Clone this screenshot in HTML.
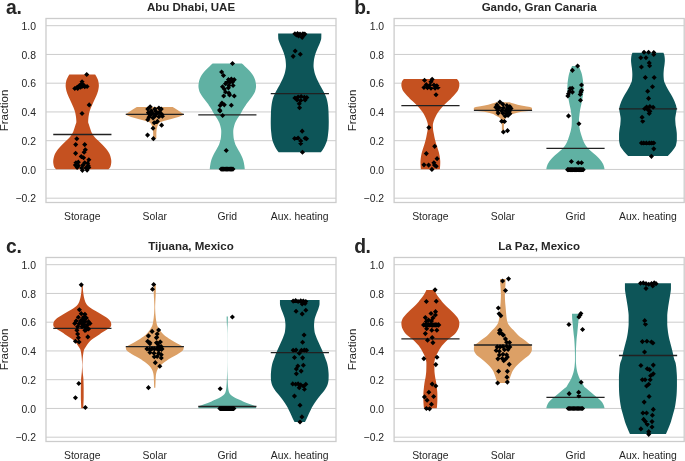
<!DOCTYPE html>
<html lang="en"><head><meta charset="utf-8"><title>Violin plots</title>
<style>html,body{margin:0;padding:0;background:#fff;}body{width:685px;height:461px;overflow:hidden;}svg{display:block;will-change:transform;font-family:"Liberation Sans",Arial,Helvetica,sans-serif;}.tk{font-size:10.4px;fill:#262626;}.lb{font-size:11.5px;fill:#262626;}.tt{font-size:11.5px;font-weight:bold;fill:#262626;}.pl{font-size:19.3px;font-weight:bold;fill:#262626;letter-spacing:-0.4px;}</style></head><body>
<svg width="685" height="461" viewBox="0 0 685 461">
<rect width="685" height="461" fill="#fff"/>
<g>
<path d="M46,25.69H336M46,54.44H336M46,83.19H336M46,111.94H336M46,140.69H336M46,169.44H336M46,198.19H336" stroke="#cccccc" stroke-width="1" fill="none"/>
<path d="M95.15,74.4L95.63,75.16L96.08,75.92L96.49,76.68L96.87,77.44L97.23,78.2L97.58,78.96L97.9,79.71L98.15,80.47L98.32,81.23L98.46,81.99L98.59,82.75L98.7,83.51L98.79,84.27L98.84,85.03L98.85,85.79L98.81,86.55L98.74,87.31L98.63,88.07L98.51,88.82L98.37,89.58L98.22,90.34L98.04,91.1L97.81,91.86L97.54,92.62L97.25,93.38L96.95,94.14L96.65,94.9L96.34,95.66L96.01,96.42L95.67,97.18L95.32,97.94L94.96,98.69L94.62,99.45L94.28,100.21L93.93,100.97L93.59,101.73L93.25,102.49L92.91,103.25L92.58,104.01L92.24,104.77L91.9,105.53L91.56,106.29L91.23,107.05L90.91,107.8L90.61,108.56L90.34,109.32L90.07,110.08L89.82,110.84L89.58,111.6L89.37,112.36L89.18,113.12L89.01,113.88L88.87,114.64L88.74,115.4L88.61,116.16L88.51,116.92L88.42,117.67L88.35,118.43L88.29,119.19L88.23,119.95L88.19,120.71L88.16,121.47L88.16,122.23L88.32,122.99L88.6,123.75L88.89,124.51L89.12,125.27L89.36,126.03L89.6,126.78L89.84,127.54L90.09,128.3L90.34,129.06L90.59,129.82L90.83,130.58L91.09,131.34L91.39,132.1L91.77,132.86L92.2,133.62L92.69,134.38L93.21,135.14L93.77,135.9L94.36,136.65L94.98,137.41L95.67,138.17L96.43,138.93L97.24,139.69L98.06,140.45L98.86,141.21L99.62,141.97L100.39,142.73L101.16,143.49L101.92,144.25L102.67,145.01L103.38,145.76L104.07,146.52L104.75,147.28L105.43,148.04L106.08,148.8L106.7,149.56L107.27,150.32L107.79,151.08L108.27,151.84L108.74,152.6L109.18,153.36L109.59,154.12L109.96,154.88L110.25,155.63L110.47,156.39L110.66,157.15L110.83,157.91L110.99,158.67L111.13,159.43L111.23,160.19L111.29,160.95L111.3,161.71L111.27,162.47L111.19,163.23L111.08,163.99L110.94,164.74L110.77,165.5L110.57,166.26L110.33,167.02L109.85,167.78L109.19,168.54L108.45,169.3L56.05,169.3L55.31,168.54L54.65,167.78L54.17,167.02L53.93,166.26L53.73,165.5L53.56,164.74L53.42,163.99L53.31,163.23L53.23,162.47L53.2,161.71L53.21,160.95L53.27,160.19L53.37,159.43L53.51,158.67L53.67,157.91L53.84,157.15L54.03,156.39L54.25,155.63L54.54,154.88L54.91,154.12L55.32,153.36L55.76,152.6L56.23,151.84L56.71,151.08L57.23,150.32L57.8,149.56L58.42,148.8L59.07,148.04L59.75,147.28L60.43,146.52L61.12,145.76L61.83,145.01L62.58,144.25L63.34,143.49L64.11,142.73L64.88,141.97L65.64,141.21L66.44,140.45L67.26,139.69L68.07,138.93L68.83,138.17L69.52,137.41L70.14,136.65L70.73,135.9L71.29,135.14L71.81,134.38L72.3,133.62L72.73,132.86L73.11,132.1L73.41,131.34L73.67,130.58L73.91,129.82L74.16,129.06L74.41,128.3L74.66,127.54L74.9,126.78L75.14,126.03L75.38,125.27L75.61,124.51L75.9,123.75L76.18,122.99L76.34,122.23L76.34,121.47L76.31,120.71L76.27,119.95L76.21,119.19L76.15,118.43L76.08,117.67L75.99,116.92L75.89,116.16L75.76,115.4L75.63,114.64L75.49,113.88L75.32,113.12L75.13,112.36L74.92,111.6L74.68,110.84L74.43,110.08L74.16,109.32L73.89,108.56L73.59,107.8L73.27,107.05L72.94,106.29L72.6,105.53L72.26,104.77L71.92,104.01L71.59,103.25L71.25,102.49L70.91,101.73L70.57,100.97L70.22,100.21L69.88,99.45L69.54,98.69L69.18,97.94L68.83,97.18L68.49,96.42L68.16,95.66L67.85,94.9L67.55,94.14L67.25,93.38L66.96,92.62L66.69,91.86L66.46,91.1L66.28,90.34L66.13,89.58L65.99,88.82L65.87,88.07L65.76,87.31L65.69,86.55L65.65,85.79L65.66,85.03L65.71,84.27L65.8,83.51L65.91,82.75L66.04,81.99L66.18,81.23L66.35,80.47L66.6,79.71L66.92,78.96L67.27,78.2L67.63,77.44L68.01,76.68L68.42,75.92L68.87,75.16L69.35,74.4Z" fill="#C55120"/>
<path d="M172.65,106.9L173.94,107.67L175.18,108.44L176.37,109.2L177.51,109.97L178.62,110.74L179.71,111.51L180.78,112.28L181.88,113.05L183.24,113.81L183.62,114.58L182.53,115.35L180.89,116.12L178.33,116.89L175.56,117.66L172.98,118.42L170.33,119.19L167.43,119.96L164.58,120.73L162.11,121.5L160.16,122.27L159.2,123.03L158.58,123.8L158.13,124.57L157.79,125.34L157.51,126.11L157.27,126.88L157.05,127.64L156.85,128.41L156.69,129.18L156.57,129.95L156.51,130.72L156.45,131.49L156.4,132.25L156.37,133.02L156.35,133.79L156.35,134.56L156.35,135.33L156.35,136.1L156.35,136.86L156.35,137.63L156.35,138.4L153.15,138.4L153.15,137.63L153.15,136.86L153.15,136.1L153.15,135.33L153.15,134.56L153.15,133.79L153.13,133.02L153.1,132.25L153.05,131.49L152.99,130.72L152.93,129.95L152.81,129.18L152.65,128.41L152.45,127.64L152.23,126.88L151.99,126.11L151.71,125.34L151.37,124.57L150.92,123.8L150.3,123.03L149.34,122.27L147.39,121.5L144.92,120.73L142.07,119.96L139.17,119.19L136.52,118.42L133.94,117.66L131.17,116.89L128.61,116.12L126.97,115.35L125.88,114.58L126.26,113.81L127.62,113.05L128.72,112.28L129.79,111.51L130.88,110.74L131.99,109.97L133.13,109.2L134.32,108.44L135.56,107.67L136.85,106.9Z" fill="#DCA066"/>
<path d="M241.85,63.6L242.76,64.36L243.65,65.12L244.51,65.88L245.34,66.64L246.15,67.4L246.94,68.16L247.72,68.92L248.48,69.68L249.21,70.44L249.9,71.2L250.54,71.96L251.13,72.72L251.71,73.48L252.27,74.24L252.78,75L253.25,75.76L253.66,76.52L254.02,77.27L254.35,78.03L254.67,78.79L254.95,79.55L255.19,80.31L255.38,81.07L255.53,81.83L255.67,82.59L255.8,83.35L255.91,84.11L255.99,84.87L256.04,85.63L256.05,86.39L255.99,87.15L255.89,87.91L255.76,88.67L255.59,89.43L255.4,90.19L255.21,90.95L254.95,91.71L254.61,92.47L254.21,93.23L253.77,93.99L253.31,94.75L252.85,95.51L252.36,96.27L251.84,97.03L251.28,97.79L250.71,98.55L250.12,99.31L249.55,100.07L248.98,100.83L248.39,101.59L247.8,102.35L247.21,103.11L246.63,103.86L246.07,104.62L245.54,105.38L245.01,106.14L244.49,106.9L243.98,107.66L243.5,108.42L243.03,109.18L242.61,109.94L242.21,110.7L241.83,111.46L241.43,112.22L241.01,112.98L240.57,113.74L240.13,114.5L239.66,115.26L239.16,116.02L238.64,116.78L238.12,117.54L237.62,118.3L237.15,119.06L236.73,119.82L236.33,120.58L235.94,121.34L235.56,122.1L235.2,122.86L234.88,123.62L234.59,124.38L234.35,125.14L234.15,125.9L233.96,126.66L233.78,127.42L233.62,128.18L233.47,128.94L233.36,129.69L233.28,130.45L233.25,131.21L233.26,131.97L233.27,132.73L233.3,133.49L233.34,134.25L233.39,135.01L233.44,135.77L233.5,136.53L233.57,137.29L233.66,138.05L233.79,138.81L233.94,139.57L234.12,140.33L234.32,141.09L234.54,141.85L234.76,142.61L235.01,143.37L235.3,144.13L235.64,144.89L236.02,145.65L236.42,146.41L236.83,147.17L237.24,147.93L237.64,148.69L238.05,149.45L238.48,150.21L238.91,150.97L239.36,151.73L239.79,152.49L240.21,153.25L240.61,154.01L240.97,154.77L241.33,155.53L241.68,156.28L242.02,157.04L242.34,157.8L242.64,158.56L242.92,159.32L243.16,160.08L243.37,160.84L243.56,161.6L243.75,162.36L243.92,163.12L244.07,163.88L244.21,164.64L244.34,165.4L244.44,166.16L244.54,166.92L244.62,167.68L244.69,168.44L244.75,169.2L209.75,169.2L209.81,168.44L209.88,167.68L209.96,166.92L210.06,166.16L210.16,165.4L210.29,164.64L210.43,163.88L210.58,163.12L210.75,162.36L210.94,161.6L211.13,160.84L211.34,160.08L211.58,159.32L211.86,158.56L212.16,157.8L212.48,157.04L212.82,156.28L213.17,155.53L213.53,154.77L213.89,154.01L214.29,153.25L214.71,152.49L215.14,151.73L215.59,150.97L216.02,150.21L216.45,149.45L216.86,148.69L217.26,147.93L217.67,147.17L218.08,146.41L218.48,145.65L218.86,144.89L219.2,144.13L219.49,143.37L219.74,142.61L219.96,141.85L220.18,141.09L220.38,140.33L220.56,139.57L220.71,138.81L220.84,138.05L220.93,137.29L221,136.53L221.06,135.77L221.11,135.01L221.16,134.25L221.2,133.49L221.23,132.73L221.24,131.97L221.25,131.21L221.22,130.45L221.14,129.69L221.03,128.94L220.88,128.18L220.72,127.42L220.54,126.66L220.35,125.9L220.15,125.14L219.91,124.38L219.62,123.62L219.3,122.86L218.94,122.1L218.56,121.34L218.17,120.58L217.77,119.82L217.35,119.06L216.88,118.3L216.38,117.54L215.86,116.78L215.34,116.02L214.84,115.26L214.37,114.5L213.93,113.74L213.49,112.98L213.07,112.22L212.67,111.46L212.29,110.7L211.89,109.94L211.47,109.18L211,108.42L210.52,107.66L210.01,106.9L209.49,106.14L208.96,105.38L208.43,104.62L207.87,103.86L207.29,103.11L206.7,102.35L206.11,101.59L205.52,100.83L204.95,100.07L204.38,99.31L203.79,98.55L203.22,97.79L202.66,97.03L202.14,96.27L201.65,95.51L201.19,94.75L200.73,93.99L200.29,93.23L199.89,92.47L199.55,91.71L199.29,90.95L199.1,90.19L198.91,89.43L198.74,88.67L198.61,87.91L198.51,87.15L198.45,86.39L198.46,85.63L198.51,84.87L198.59,84.11L198.7,83.35L198.83,82.59L198.97,81.83L199.12,81.07L199.31,80.31L199.55,79.55L199.83,78.79L200.15,78.03L200.48,77.27L200.84,76.52L201.25,75.76L201.72,75L202.23,74.24L202.79,73.48L203.37,72.72L203.96,71.96L204.6,71.2L205.29,70.44L206.02,69.68L206.78,68.92L207.56,68.16L208.35,67.4L209.16,66.64L209.99,65.88L210.85,65.12L211.74,64.36L212.65,63.6Z" fill="#60B1A3"/>
<path d="M321.35,33.4L321.35,34.16L321.34,34.91L321.33,35.67L321.31,36.43L321.29,37.19L321.26,37.94L321.21,38.7L321.06,39.46L320.85,40.22L320.59,40.97L320.32,41.73L320.05,42.49L319.78,43.25L319.48,44L319.16,44.76L318.82,45.52L318.47,46.27L318.13,47.03L317.8,47.79L317.49,48.55L317.18,49.3L316.87,50.06L316.57,50.82L316.27,51.58L315.98,52.33L315.71,53.09L315.46,53.85L315.23,54.61L315,55.36L314.78,56.12L314.57,56.88L314.38,57.63L314.21,58.39L314.07,59.15L313.96,59.91L313.88,60.66L313.8,61.42L313.73,62.18L313.67,62.94L313.62,63.69L313.58,64.45L313.56,65.21L313.55,65.96L313.58,66.72L313.65,67.48L313.74,68.24L313.86,68.99L313.99,69.75L314.14,70.51L314.29,71.27L314.44,72.02L314.62,72.78L314.83,73.54L315.07,74.3L315.33,75.05L315.61,75.81L315.89,76.57L316.18,77.32L316.48,78.08L316.81,78.84L317.16,79.6L317.53,80.35L317.92,81.11L318.31,81.87L318.7,82.63L319.09,83.38L319.49,84.14L319.91,84.9L320.33,85.66L320.76,86.41L321.18,87.17L321.61,87.93L322.03,88.68L322.43,89.44L322.85,90.2L323.26,90.96L323.66,91.71L324.06,92.47L324.43,93.23L324.78,93.99L325.12,94.74L325.46,95.5L325.79,96.26L326.09,97.02L326.36,97.77L326.6,98.53L326.81,99.29L327,100.04L327.18,100.8L327.34,101.56L327.49,102.32L327.63,103.07L327.75,103.83L327.86,104.59L327.96,105.35L328.06,106.1L328.15,106.86L328.23,107.62L328.3,108.38L328.37,109.13L328.42,109.89L328.46,110.65L328.5,111.4L328.53,112.16L328.56,112.92L328.58,113.68L328.61,114.43L328.63,115.19L328.64,115.95L328.66,116.71L328.68,117.46L328.7,118.22L328.71,118.98L328.73,119.74L328.74,120.49L328.75,121.25L328.75,122.01L328.75,122.76L328.74,123.52L328.73,124.28L328.72,125.04L328.7,125.79L328.68,126.55L328.66,127.31L328.64,128.07L328.61,128.82L328.55,129.58L328.49,130.34L328.42,131.09L328.34,131.85L328.26,132.61L328.18,133.37L328.09,134.12L328,134.88L327.9,135.64L327.8,136.4L327.68,137.15L327.56,137.91L327.42,138.67L327.27,139.43L327.09,140.18L326.87,140.94L326.62,141.7L326.34,142.45L326.04,143.21L325.72,143.97L325.4,144.73L325.07,145.48L324.72,146.24L324.34,147L323.94,147.76L323.51,148.51L323.05,149.27L322.57,150.03L322.04,150.79L321.46,151.54L320.85,152.3L278.65,152.3L278.04,151.54L277.46,150.79L276.93,150.03L276.45,149.27L275.99,148.51L275.56,147.76L275.16,147L274.78,146.24L274.43,145.48L274.1,144.73L273.78,143.97L273.46,143.21L273.16,142.45L272.88,141.7L272.63,140.94L272.41,140.18L272.23,139.43L272.08,138.67L271.94,137.91L271.82,137.15L271.7,136.4L271.6,135.64L271.5,134.88L271.41,134.12L271.32,133.37L271.24,132.61L271.16,131.85L271.08,131.09L271.01,130.34L270.95,129.58L270.89,128.82L270.86,128.07L270.84,127.31L270.82,126.55L270.8,125.79L270.78,125.04L270.77,124.28L270.76,123.52L270.75,122.76L270.75,122.01L270.75,121.25L270.76,120.49L270.77,119.74L270.79,118.98L270.8,118.22L270.82,117.46L270.84,116.71L270.86,115.95L270.87,115.19L270.89,114.43L270.92,113.68L270.94,112.92L270.97,112.16L271,111.4L271.04,110.65L271.08,109.89L271.13,109.13L271.2,108.38L271.27,107.62L271.35,106.86L271.44,106.1L271.54,105.35L271.64,104.59L271.75,103.83L271.87,103.07L272.01,102.32L272.16,101.56L272.32,100.8L272.5,100.04L272.69,99.29L272.9,98.53L273.14,97.77L273.41,97.02L273.71,96.26L274.04,95.5L274.38,94.74L274.72,93.99L275.07,93.23L275.44,92.47L275.84,91.71L276.24,90.96L276.65,90.2L277.07,89.44L277.47,88.68L277.89,87.93L278.32,87.17L278.74,86.41L279.17,85.66L279.59,84.9L280.01,84.14L280.41,83.38L280.8,82.63L281.19,81.87L281.58,81.11L281.97,80.35L282.34,79.6L282.69,78.84L283.02,78.08L283.32,77.32L283.61,76.57L283.89,75.81L284.17,75.05L284.43,74.3L284.67,73.54L284.88,72.78L285.06,72.02L285.21,71.27L285.36,70.51L285.51,69.75L285.64,68.99L285.76,68.24L285.85,67.48L285.92,66.72L285.95,65.96L285.94,65.21L285.92,64.45L285.88,63.69L285.83,62.94L285.77,62.18L285.7,61.42L285.62,60.66L285.54,59.91L285.43,59.15L285.29,58.39L285.12,57.63L284.93,56.88L284.72,56.12L284.5,55.36L284.27,54.61L284.04,53.85L283.79,53.09L283.52,52.33L283.23,51.58L282.93,50.82L282.63,50.06L282.32,49.3L282.01,48.55L281.7,47.79L281.37,47.03L281.03,46.27L280.68,45.52L280.34,44.76L280.02,44L279.72,43.25L279.45,42.49L279.18,41.73L278.91,40.97L278.65,40.22L278.44,39.46L278.29,38.7L278.24,37.94L278.21,37.19L278.19,36.43L278.17,35.67L278.16,34.91L278.15,34.16L278.15,33.4Z" fill="#0D5558"/>
<path d="M53.25,134.5H111.45M125.75,114.4H183.95M198.25,114.8H256.45M270.75,93.65H328.95" stroke="#222" stroke-width="1.3" fill="none"/>
<path d="M86.73,71.89l2.55,2.55l-2.55,2.55l-2.55,-2.55zM82.05,79.27l2.55,2.55l-2.55,2.55l-2.55,-2.55zM79.47,83.01l2.55,2.55l-2.55,2.55l-2.55,-2.55zM82.4,83.6l2.55,2.55l-2.55,2.55l-2.55,-2.55zM84.74,84.19l2.55,2.55l-2.55,2.55l-2.55,-2.55zM87.08,83.95l2.55,2.55l-2.55,2.55l-2.55,-2.55zM77.13,84.77l2.55,2.55l-2.55,2.55l-2.55,-2.55zM74.79,85.94l2.55,2.55l-2.55,2.55l-2.55,-2.55zM81.81,81.26l2.55,2.55l-2.55,2.55l-2.55,-2.55zM80.64,84.77l2.55,2.55l-2.55,2.55l-2.55,-2.55zM77.71,85.94l2.55,2.55l-2.55,2.55l-2.55,-2.55zM84.15,83.01l2.55,2.55l-2.55,2.55l-2.55,-2.55zM89.19,102.34l2.55,2.55l-2.55,2.55l-2.55,-2.55zM82.05,110.88l2.55,2.55l-2.55,2.55l-2.55,-2.55zM76.78,136.19l2.55,2.55l-2.55,2.55l-2.55,-2.55zM75.72,142.04l2.55,2.55l-2.55,2.55l-2.55,-2.55zM84.74,142.04l2.55,2.55l-2.55,2.55l-2.55,-2.55zM85.33,147.31l2.55,2.55l-2.55,2.55l-2.55,-2.55zM84.15,149.65l2.55,2.55l-2.55,2.55l-2.55,-2.55zM75.61,150.82l2.55,2.55l-2.55,2.55l-2.55,-2.55zM81.23,153.98l2.55,2.55l-2.55,2.55l-2.55,-2.55zM83.57,155.15l2.55,2.55l-2.55,2.55l-2.55,-2.55zM88.84,157.26l2.55,2.55l-2.55,2.55l-2.55,-2.55zM75.96,160.19l2.55,2.55l-2.55,2.55l-2.55,-2.55zM78.3,159.6l2.55,2.55l-2.55,2.55l-2.55,-2.55zM84.74,160.19l2.55,2.55l-2.55,2.55l-2.55,-2.55zM87.67,160.78l2.55,2.55l-2.55,2.55l-2.55,-2.55zM75.37,162.53l2.55,2.55l-2.55,2.55l-2.55,-2.55zM78.3,163.12l2.55,2.55l-2.55,2.55l-2.55,-2.55zM82.98,162.53l2.55,2.55l-2.55,2.55l-2.55,-2.55zM88.25,163.12l2.55,2.55l-2.55,2.55l-2.55,-2.55zM77.13,164.87l2.55,2.55l-2.55,2.55l-2.55,-2.55zM81.81,165.46l2.55,2.55l-2.55,2.55l-2.55,-2.55zM85.91,165.46l2.55,2.55l-2.55,2.55l-2.55,-2.55zM88.84,164.87l2.55,2.55l-2.55,2.55l-2.55,-2.55zM82.4,167.8l2.55,2.55l-2.55,2.55l-2.55,-2.55zM87.08,167.57l2.55,2.55l-2.55,2.55l-2.55,-2.55zM150.13,104.23l2.55,2.55l-2.55,2.55l-2.55,-2.55zM158.91,105.4l2.55,2.55l-2.55,2.55l-2.55,-2.55zM154.81,106.57l2.55,2.55l-2.55,2.55l-2.55,-2.55zM147.79,106.57l2.55,2.55l-2.55,2.55l-2.55,-2.55zM161.25,106.57l2.55,2.55l-2.55,2.55l-2.55,-2.55zM151.3,108.33l2.55,2.55l-2.55,2.55l-2.55,-2.55zM155.98,108.92l2.55,2.55l-2.55,2.55l-2.55,-2.55zM159.5,109.5l2.55,2.55l-2.55,2.55l-2.55,-2.55zM148.37,110.09l2.55,2.55l-2.55,2.55l-2.55,-2.55zM152.47,110.67l2.55,2.55l-2.55,2.55l-2.55,-2.55zM156.57,111.26l2.55,2.55l-2.55,2.55l-2.55,-2.55zM161.84,111.84l2.55,2.55l-2.55,2.55l-2.55,-2.55zM150.13,113.01l2.55,2.55l-2.55,2.55l-2.55,-2.55zM154.81,113.6l2.55,2.55l-2.55,2.55l-2.55,-2.55zM158.91,114.19l2.55,2.55l-2.55,2.55l-2.55,-2.55zM162.42,113.6l2.55,2.55l-2.55,2.55l-2.55,-2.55zM148.96,114.77l2.55,2.55l-2.55,2.55l-2.55,-2.55zM153.06,115.36l2.55,2.55l-2.55,2.55l-2.55,-2.55zM147.79,117.11l2.55,2.55l-2.55,2.55l-2.55,-2.55zM154.23,120.27l2.55,2.55l-2.55,2.55l-2.55,-2.55zM157.39,118.87l2.55,2.55l-2.55,2.55l-2.55,-2.55zM161.6,122.62l2.55,2.55l-2.55,2.55l-2.55,-2.55zM153.06,125.66l2.55,2.55l-2.55,2.55l-2.55,-2.55zM147.55,132.57l2.55,2.55l-2.55,2.55l-2.55,-2.55zM153.41,136.08l2.55,2.55l-2.55,2.55l-2.55,-2.55zM232.5,60.95l2.55,2.55l-2.55,2.55l-2.55,-2.55zM221.61,69.5l2.55,2.55l-2.55,2.55l-2.55,-2.55zM223.48,73.01l2.55,2.55l-2.55,2.55l-2.55,-2.55zM228.4,77.11l2.55,2.55l-2.55,2.55l-2.55,-2.55zM231.33,76.53l2.55,2.55l-2.55,2.55l-2.55,-2.55zM234.25,77.11l2.55,2.55l-2.55,2.55l-2.55,-2.55zM226.64,79.45l2.55,2.55l-2.55,2.55l-2.55,-2.55zM229.57,80.04l2.55,2.55l-2.55,2.55l-2.55,-2.55zM232.5,79.45l2.55,2.55l-2.55,2.55l-2.55,-2.55zM225.47,81.21l2.55,2.55l-2.55,2.55l-2.55,-2.55zM228.98,82.97l2.55,2.55l-2.55,2.55l-2.55,-2.55zM233.08,82.97l2.55,2.55l-2.55,2.55l-2.55,-2.55zM222.54,84.14l2.55,2.55l-2.55,2.55l-2.55,-2.55zM224.3,86.48l2.55,2.55l-2.55,2.55l-2.55,-2.55zM228.4,85.31l2.55,2.55l-2.55,2.55l-2.55,-2.55zM225.47,89.41l2.55,2.55l-2.55,2.55l-2.55,-2.55zM228.98,90.58l2.55,2.55l-2.55,2.55l-2.55,-2.55zM223.71,93.51l2.55,2.55l-2.55,2.55l-2.55,-2.55zM234.25,93.51l2.55,2.55l-2.55,2.55l-2.55,-2.55zM229.57,92.34l2.55,2.55l-2.55,2.55l-2.55,-2.55zM221.96,100.53l2.55,2.55l-2.55,2.55l-2.55,-2.55zM224.3,102.29l2.55,2.55l-2.55,2.55l-2.55,-2.55zM231.33,102.64l2.55,2.55l-2.55,2.55l-2.55,-2.55zM220.2,102.87l2.55,2.55l-2.55,2.55l-2.55,-2.55zM219.62,107.56l2.55,2.55l-2.55,2.55l-2.55,-2.55zM220,108.36l2.55,2.55l-2.55,2.55l-2.55,-2.55zM222.62,113.01l2.55,2.55l-2.55,2.55l-2.55,-2.55zM226.25,147.92l2.55,2.55l-2.55,2.55l-2.55,-2.55zM221.16,166.54l2.55,2.55l-2.55,2.55l-2.55,-2.55zM222.47,166.54l2.55,2.55l-2.55,2.55l-2.55,-2.55zM223.78,166.54l2.55,2.55l-2.55,2.55l-2.55,-2.55zM225.09,166.54l2.55,2.55l-2.55,2.55l-2.55,-2.55zM226.4,166.54l2.55,2.55l-2.55,2.55l-2.55,-2.55zM227.71,166.54l2.55,2.55l-2.55,2.55l-2.55,-2.55zM229.02,166.54l2.55,2.55l-2.55,2.55l-2.55,-2.55zM230.33,166.54l2.55,2.55l-2.55,2.55l-2.55,-2.55zM231.64,166.54l2.55,2.55l-2.55,2.55l-2.55,-2.55zM232.95,166.54l2.55,2.55l-2.55,2.55l-2.55,-2.55zM294.91,31.27l2.55,2.55l-2.55,2.55l-2.55,-2.55zM297.53,30.98l2.55,2.55l-2.55,2.55l-2.55,-2.55zM300,31.56l2.55,2.55l-2.55,2.55l-2.55,-2.55zM302.91,31.27l2.55,2.55l-2.55,2.55l-2.55,-2.55zM304.8,31.56l2.55,2.55l-2.55,2.55l-2.55,-2.55zM298.55,33.45l2.55,2.55l-2.55,2.55l-2.55,-2.55zM302.18,34.9l2.55,2.55l-2.55,2.55l-2.55,-2.55zM296.36,32.43l2.55,2.55l-2.55,2.55l-2.55,-2.55zM303.64,33.01l2.55,2.55l-2.55,2.55l-2.55,-2.55zM295.2,48.43l2.55,2.55l-2.55,2.55l-2.55,-2.55zM300.29,51.63l2.55,2.55l-2.55,2.55l-2.55,-2.55zM293.16,53.81l2.55,2.55l-2.55,2.55l-2.55,-2.55zM294.91,95.45l2.55,2.55l-2.55,2.55l-2.55,-2.55zM298.11,94.43l2.55,2.55l-2.55,2.55l-2.55,-2.55zM301.16,94l2.55,2.55l-2.55,2.55l-2.55,-2.55zM304.36,94.72l2.55,2.55l-2.55,2.55l-2.55,-2.55zM306.84,95.01l2.55,2.55l-2.55,2.55l-2.55,-2.55zM297.09,97.34l2.55,2.55l-2.55,2.55l-2.55,-2.55zM300.73,97.92l2.55,2.55l-2.55,2.55l-2.55,-2.55zM305.09,97.34l2.55,2.55l-2.55,2.55l-2.55,-2.55zM299.27,101.27l2.55,2.55l-2.55,2.55l-2.55,-2.55zM299.56,105.2l2.55,2.55l-2.55,2.55l-2.55,-2.55zM302.18,128.61l2.55,2.55l-2.55,2.55l-2.55,-2.55zM294.62,135.89l2.55,2.55l-2.55,2.55l-2.55,-2.55zM298.11,135.45l2.55,2.55l-2.55,2.55l-2.55,-2.55zM305.09,135.74l2.55,2.55l-2.55,2.55l-2.55,-2.55zM306.55,136.18l2.55,2.55l-2.55,2.55l-2.55,-2.55zM300.73,138.36l2.55,2.55l-2.55,2.55l-2.55,-2.55zM300.73,140.98l2.55,2.55l-2.55,2.55l-2.55,-2.55zM302.47,149.7l2.55,2.55l-2.55,2.55l-2.55,-2.55z" fill="#000"/>
<rect x="46" y="18.5" width="290" height="184" fill="none" stroke="#cccccc" stroke-width="1.3"/>
<text class="tk" x="36" y="29.79" text-anchor="end">1.0</text>
<text class="tk" x="36" y="58.54" text-anchor="end">0.8</text>
<text class="tk" x="36" y="87.29" text-anchor="end">0.6</text>
<text class="tk" x="36" y="116.04" text-anchor="end">0.4</text>
<text class="tk" x="36" y="144.79" text-anchor="end">0.2</text>
<text class="tk" x="36" y="173.54" text-anchor="end">0.0</text>
<text class="tk" x="36" y="202.29" text-anchor="end">−0.2</text>
<text class="tk" x="82.25" y="219.8" text-anchor="middle">Storage</text>
<text class="tk" x="154.75" y="219.8" text-anchor="middle">Solar</text>
<text class="tk" x="227.25" y="219.8" text-anchor="middle">Grid</text>
<text class="tk" x="299.75" y="219.8" text-anchor="middle">Aux. heating</text>
<text class="lb" transform="translate(8.1,110.5) rotate(-90)" text-anchor="middle">Fraction</text>
<text class="tt" x="191" y="11.4" text-anchor="middle">Abu Dhabi, UAE</text>
<text class="pl" x="6.1" y="13.8">a.</text>
</g>
<g>
<path d="M394.1,25.69H684.2M394.1,54.44H684.2M394.1,83.19H684.2M394.1,111.94H684.2M394.1,140.69H684.2M394.1,169.44H684.2M394.1,198.19H684.2" stroke="#cccccc" stroke-width="1" fill="none"/>
<path d="M456.86,78.9L457.58,79.66L458.2,80.42L458.66,81.18L458.92,81.94L459.11,82.69L459.25,83.45L459.34,84.21L459.36,84.97L459.31,85.73L459.2,86.49L459.03,87.25L458.83,88.01L458.6,88.76L458.35,89.52L458.03,90.28L457.58,91.04L457.03,91.8L456.43,92.56L455.8,93.32L455.17,94.08L454.54,94.84L453.86,95.59L453.15,96.35L452.41,97.11L451.65,97.87L450.87,98.63L450.03,99.39L449.17,100.15L448.31,100.91L447.49,101.66L446.69,102.42L445.9,103.18L445.12,103.94L444.37,104.7L443.64,105.46L442.95,106.22L442.27,106.98L441.61,107.74L440.98,108.49L440.36,109.25L439.77,110.01L439.19,110.77L438.63,111.53L438.09,112.29L437.58,113.05L437.11,113.81L436.68,114.56L436.28,115.32L435.91,116.08L435.55,116.84L435.2,117.6L434.85,118.36L434.5,119.12L434.16,119.88L433.86,120.64L433.61,121.39L433.4,122.15L433.19,122.91L433.01,123.67L432.89,124.43L432.86,125.19L432.87,125.95L432.9,126.71L432.94,127.46L432.98,128.22L433.03,128.98L433.09,129.74L433.18,130.5L433.31,131.26L433.45,132.02L433.6,132.78L433.76,133.54L433.9,134.29L434.04,135.05L434.17,135.81L434.32,136.57L434.47,137.33L434.63,138.09L434.8,138.85L434.98,139.61L435.18,140.36L435.39,141.12L435.61,141.88L435.84,142.64L436.06,143.4L436.29,144.16L436.53,144.92L436.78,145.68L437.03,146.44L437.28,147.19L437.52,147.95L437.75,148.71L438,149.47L438.24,150.23L438.47,150.99L438.69,151.75L438.89,152.51L439.07,153.26L439.24,154.02L439.41,154.78L439.56,155.54L439.69,156.3L439.81,157.06L439.9,157.82L439.99,158.58L440.08,159.34L440.15,160.09L440.22,160.85L440.25,161.61L440.26,162.37L440.25,163.13L440.22,163.89L440.19,164.65L440.15,165.41L440.1,166.16L440.05,166.92L440,167.68L439.93,168.44L439.86,169.2L420.86,169.2L420.79,168.44L420.72,167.68L420.67,166.92L420.62,166.16L420.58,165.41L420.54,164.65L420.5,163.89L420.47,163.13L420.46,162.37L420.47,161.61L420.51,160.85L420.57,160.09L420.65,159.34L420.73,158.58L420.82,157.82L420.92,157.06L421.03,156.3L421.17,155.54L421.32,154.78L421.48,154.02L421.65,153.26L421.83,152.51L422.03,151.75L422.25,150.99L422.49,150.23L422.73,149.47L422.97,148.71L423.21,147.95L423.45,147.19L423.69,146.44L423.94,145.68L424.19,144.92L424.43,144.16L424.66,143.4L424.89,142.64L425.11,141.88L425.33,141.12L425.54,140.36L425.74,139.61L425.93,138.85L426.1,138.09L426.26,137.33L426.41,136.57L426.55,135.81L426.69,135.05L426.83,134.29L426.97,133.54L427.12,132.78L427.28,132.02L427.42,131.26L427.54,130.5L427.63,129.74L427.69,128.98L427.74,128.22L427.79,127.46L427.82,126.71L427.85,125.95L427.86,125.19L427.83,124.43L427.72,123.67L427.54,122.91L427.33,122.15L427.11,121.39L426.86,120.64L426.56,119.88L426.22,119.12L425.87,118.36L425.53,117.6L425.18,116.84L424.82,116.08L424.44,115.32L424.04,114.56L423.62,113.81L423.15,113.05L422.64,112.29L422.1,111.53L421.53,110.77L420.95,110.01L420.36,109.25L419.75,108.49L419.11,107.74L418.46,106.98L417.78,106.22L417.08,105.46L416.36,104.7L415.6,103.94L414.83,103.18L414.04,102.42L413.24,101.66L412.42,100.91L411.56,100.15L410.69,99.39L409.86,98.63L409.08,97.87L408.31,97.11L407.57,96.35L406.86,95.59L406.18,94.84L405.55,94.08L404.93,93.32L404.29,92.56L403.69,91.8L403.15,91.04L402.7,90.28L402.37,89.52L402.13,88.76L401.9,88.01L401.69,87.25L401.53,86.49L401.42,85.73L401.36,84.97L401.39,84.21L401.48,83.45L401.62,82.69L401.8,81.94L402.06,81.18L402.53,80.42L403.15,79.66L403.86,78.9Z" fill="#C55120"/>
<path d="M509.39,102.3L511.69,103.09L514.43,103.87L517.59,104.66L521.23,105.45L525.43,106.24L530.01,107.02L531.84,107.81L531.97,108.6L531.98,109.38L531.85,110.17L528.69,110.96L521.45,111.75L518.09,112.53L515.24,113.32L512.49,114.11L510.95,114.89L509.75,115.68L508.33,116.47L506.89,117.26L505.94,118.04L505.27,118.83L504.84,119.62L504.54,120.41L504.3,121.19L504.14,121.98L504.06,122.77L504.01,123.55L503.96,124.34L503.93,125.13L503.9,125.92L503.89,126.7L503.89,127.49L503.89,128.28L503.89,129.06L503.89,129.85L503.89,130.64L503.89,131.43L503.89,132.21L503.89,133L501.89,133L501.89,132.21L501.89,131.43L501.89,130.64L501.89,129.85L501.89,129.06L501.89,128.28L501.89,127.49L501.89,126.7L501.87,125.92L501.85,125.13L501.81,124.34L501.77,123.55L501.72,122.77L501.64,121.98L501.48,121.19L501.24,120.41L500.94,119.62L500.51,118.83L499.84,118.04L498.89,117.26L497.45,116.47L496.03,115.68L494.83,114.89L493.28,114.11L490.53,113.32L487.68,112.53L484.32,111.75L477.08,110.96L473.92,110.17L473.8,109.38L473.8,108.6L473.94,107.81L475.77,107.02L480.35,106.24L484.54,105.45L488.18,104.66L491.34,103.87L494.08,103.09L496.39,102.3Z" fill="#DCA066"/>
<path d="M578.71,66.1L579.07,66.86L579.42,67.62L579.76,68.37L580.08,69.13L580.39,69.89L580.69,70.65L580.99,71.41L581.27,72.16L581.52,72.92L581.73,73.68L581.92,74.44L582.08,75.2L582.24,75.96L582.38,76.71L582.51,77.47L582.63,78.23L582.74,78.99L582.85,79.75L582.95,80.5L583.05,81.26L583.14,82.02L583.22,82.78L583.28,83.54L583.33,84.29L583.37,85.05L583.41,85.81L583.45,86.57L583.48,87.33L583.5,88.08L583.51,88.84L583.51,89.6L583.47,90.36L583.41,91.12L583.33,91.88L583.24,92.63L583.14,93.39L583.04,94.15L582.95,94.91L582.85,95.67L582.74,96.42L582.62,97.18L582.49,97.94L582.37,98.7L582.24,99.46L582.11,100.21L581.97,100.97L581.82,101.73L581.68,102.49L581.53,103.25L581.37,104L581.22,104.76L581.06,105.52L580.89,106.28L580.72,107.04L580.55,107.79L580.39,108.55L580.23,109.31L580.1,110.07L579.98,110.83L579.87,111.59L579.76,112.34L579.66,113.1L579.57,113.86L579.48,114.62L579.39,115.38L579.29,116.13L579.19,116.89L579.1,117.65L579.04,118.41L579.01,119.17L579.01,119.92L579.02,120.68L579.03,121.44L579.05,122.2L579.07,122.96L579.09,123.71L579.12,124.47L579.16,125.23L579.23,125.99L579.33,126.75L579.45,127.51L579.57,128.26L579.71,129.02L579.85,129.78L580,130.54L580.19,131.3L580.39,132.05L580.61,132.81L580.84,133.57L581.07,134.33L581.3,135.09L581.54,135.84L581.78,136.6L582.04,137.36L582.3,138.12L582.58,138.88L582.87,139.63L583.17,140.39L583.48,141.15L583.81,141.91L584.17,142.67L584.55,143.43L584.97,144.18L585.43,144.94L585.94,145.7L586.49,146.46L587.09,147.22L587.71,147.97L588.38,148.73L589.14,149.49L589.96,150.25L590.82,151.01L591.69,151.76L592.55,152.52L593.44,153.28L594.34,154.04L595.24,154.8L596.1,155.55L596.89,156.31L597.66,157.07L598.4,157.83L599.1,158.59L599.77,159.34L600.38,160.1L600.98,160.86L601.57,161.62L602.13,162.38L602.63,163.14L603.05,163.89L603.37,164.65L603.64,165.41L603.89,166.17L604.11,166.93L604.29,167.68L604.42,168.44L604.48,169.2L546.34,169.2L546.4,168.44L546.53,167.68L546.71,166.93L546.94,166.17L547.19,165.41L547.46,164.65L547.77,163.89L548.19,163.14L548.7,162.38L549.25,161.62L549.84,160.86L550.44,160.1L551.06,159.34L551.72,158.59L552.43,157.83L553.17,157.07L553.93,156.31L554.73,155.55L555.58,154.8L556.48,154.04L557.39,153.28L558.28,152.52L559.13,151.76L560,151.01L560.86,150.25L561.69,149.49L562.44,148.73L563.11,147.97L563.74,147.22L564.33,146.46L564.88,145.7L565.39,144.94L565.86,144.18L566.28,143.43L566.66,142.67L567.01,141.91L567.34,141.15L567.65,140.39L567.96,139.63L568.25,138.88L568.52,138.12L568.79,137.36L569.04,136.6L569.29,135.84L569.53,135.09L569.76,134.33L569.99,133.57L570.22,132.81L570.43,132.05L570.64,131.3L570.82,130.54L570.98,129.78L571.12,129.02L571.25,128.26L571.38,127.51L571.49,126.75L571.59,125.99L571.66,125.23L571.71,124.47L571.73,123.71L571.76,122.96L571.78,122.2L571.79,121.44L571.8,120.68L571.81,119.92L571.81,119.17L571.79,118.41L571.72,117.65L571.63,116.89L571.53,116.13L571.43,115.38L571.35,114.62L571.25,113.86L571.16,113.1L571.06,112.34L570.96,111.59L570.84,110.83L570.72,110.07L570.59,109.31L570.44,108.55L570.27,107.79L570.1,107.04L569.93,106.28L569.76,105.52L569.6,104.76L569.45,104L569.3,103.25L569.15,102.49L569,101.73L568.86,100.97L568.72,100.21L568.59,99.46L568.46,98.7L568.33,97.94L568.21,97.18L568.09,96.42L567.98,95.67L567.88,94.91L567.78,94.15L567.69,93.39L567.59,92.63L567.49,91.88L567.41,91.12L567.35,90.36L567.32,89.6L567.31,88.84L567.33,88.08L567.35,87.33L567.38,86.57L567.41,85.81L567.45,85.05L567.5,84.29L567.54,83.54L567.61,82.78L567.68,82.02L567.77,81.26L567.87,80.5L567.98,79.75L568.09,78.99L568.2,78.23L568.32,77.47L568.45,76.71L568.59,75.96L568.74,75.2L568.91,74.44L569.09,73.68L569.3,72.92L569.55,72.16L569.83,71.41L570.13,70.65L570.44,69.89L570.74,69.13L571.06,68.37L571.4,67.62L571.75,66.86L572.11,66.1Z" fill="#60B1A3"/>
<path d="M663.44,52.8L663.74,53.56L664.02,54.32L664.26,55.08L664.45,55.84L664.56,56.59L664.65,57.35L664.73,58.11L664.79,58.87L664.83,59.63L664.84,60.39L664.82,61.15L664.76,61.91L664.69,62.66L664.62,63.42L664.54,64.18L664.45,64.94L664.35,65.7L664.23,66.46L664.11,67.22L664,67.98L663.9,68.74L663.83,69.49L663.77,70.25L663.71,71.01L663.65,71.77L663.6,72.53L663.57,73.29L663.54,74.05L663.54,74.81L663.55,75.56L663.58,76.32L663.62,77.08L663.67,77.84L663.73,78.6L663.79,79.36L663.88,80.12L664.04,80.88L664.28,81.64L664.57,82.39L664.9,83.15L665.25,83.91L665.59,84.67L665.93,85.43L666.28,86.19L666.66,86.95L667.06,87.71L667.47,88.46L667.89,89.22L668.32,89.98L668.74,90.74L669.2,91.5L669.66,92.26L670.13,93.02L670.6,93.78L671.05,94.54L671.48,95.29L671.89,96.05L672.3,96.81L672.69,97.57L673.08,98.33L673.45,99.09L673.8,99.85L674.14,100.61L674.47,101.36L674.8,102.12L675.12,102.88L675.43,103.64L675.71,104.4L675.95,105.16L676.14,105.92L676.32,106.68L676.48,107.44L676.6,108.19L676.64,108.95L676.6,109.71L676.51,110.47L676.38,111.23L676.24,111.99L676.1,112.75L675.97,113.51L675.85,114.26L675.72,115.02L675.59,115.78L675.46,116.54L675.35,117.3L675.27,118.06L675.24,118.82L675.24,119.58L675.27,120.34L675.31,121.09L675.36,121.85L675.41,122.61L675.48,123.37L675.54,124.13L675.62,124.89L675.73,125.65L675.86,126.41L676,127.16L676.13,127.92L676.25,128.68L676.35,129.44L676.45,130.2L676.55,130.96L676.64,131.72L676.73,132.48L676.79,133.24L676.83,133.99L676.84,134.75L676.84,135.51L676.84,136.27L676.84,137.03L676.84,137.79L676.84,138.55L676.84,139.31L676.83,140.06L676.79,140.82L676.71,141.58L676.59,142.34L676.45,143.1L676.28,143.86L676.11,144.62L675.9,145.38L675.58,146.14L675.17,146.89L674.69,147.65L674.16,148.41L673.61,149.17L673.06,149.93L672.5,150.69L671.9,151.45L671.25,152.21L670.57,152.96L669.89,153.72L669.2,154.48L668.48,155.24L667.74,156L628.14,156L627.4,155.24L626.68,154.48L625.99,153.72L625.3,152.96L624.63,152.21L623.98,151.45L623.37,150.69L622.82,149.93L622.27,149.17L621.72,148.41L621.19,147.65L620.71,146.89L620.3,146.14L619.98,145.38L619.77,144.62L619.59,143.86L619.43,143.1L619.29,142.34L619.17,141.58L619.09,140.82L619.04,140.06L619.04,139.31L619.04,138.55L619.04,137.79L619.04,137.03L619.04,136.27L619.04,135.51L619.04,134.75L619.05,133.99L619.08,133.24L619.15,132.48L619.23,131.72L619.33,130.96L619.42,130.2L619.52,129.44L619.62,128.68L619.74,127.92L619.88,127.16L620.01,126.41L620.14,125.65L620.25,124.89L620.34,124.13L620.4,123.37L620.46,122.61L620.52,121.85L620.57,121.09L620.61,120.34L620.63,119.58L620.64,118.82L620.6,118.06L620.53,117.3L620.42,116.54L620.29,115.78L620.15,115.02L620.02,114.26L619.91,113.51L619.78,112.75L619.63,111.99L619.49,111.23L619.36,110.47L619.27,109.71L619.24,108.95L619.28,108.19L619.4,107.44L619.56,106.68L619.73,105.92L619.93,105.16L620.17,104.4L620.45,103.64L620.75,102.88L621.07,102.12L621.4,101.36L621.73,100.61L622.07,99.85L622.43,99.09L622.8,98.33L623.18,97.57L623.58,96.81L623.98,96.05L624.4,95.29L624.83,94.54L625.28,93.78L625.75,93.02L626.22,92.26L626.68,91.5L627.13,90.74L627.56,89.98L627.98,89.22L628.4,88.46L628.81,87.71L629.21,86.95L629.59,86.19L629.95,85.43L630.28,84.67L630.63,83.91L630.97,83.15L631.3,82.39L631.6,81.64L631.84,80.88L632,80.12L632.08,79.36L632.15,78.6L632.21,77.84L632.26,77.08L632.3,76.32L632.32,75.56L632.34,74.81L632.33,74.05L632.31,73.29L632.27,72.53L632.22,71.77L632.17,71.01L632.11,70.25L632.05,69.49L631.97,68.74L631.88,67.98L631.76,67.22L631.64,66.46L631.53,65.7L631.42,64.94L631.34,64.18L631.26,63.42L631.18,62.66L631.11,61.91L631.06,61.15L631.04,60.39L631.05,59.63L631.09,58.87L631.15,58.11L631.23,57.35L631.31,56.59L631.43,55.84L631.61,55.08L631.85,54.32L632.13,53.56L632.44,52.8Z" fill="#0D5558"/>
<path d="M401.36,105.6H459.56M473.89,110.4H532.09M546.41,148.45H604.61M618.94,108.9H677.14" stroke="#222" stroke-width="1.3" fill="none"/>
<path d="M424.54,77.75l2.55,2.55l-2.55,2.55l-2.55,-2.55zM432.15,76.82l2.55,2.55l-2.55,2.55l-2.55,-2.55zM430.98,79.16l2.55,2.55l-2.55,2.55l-2.55,-2.55zM426.3,82.09l2.55,2.55l-2.55,2.55l-2.55,-2.55zM429.81,82.67l2.55,2.55l-2.55,2.55l-2.55,-2.55zM433.91,82.44l2.55,2.55l-2.55,2.55l-2.55,-2.55zM436.84,83.26l2.55,2.55l-2.55,2.55l-2.55,-2.55zM423.96,85.01l2.55,2.55l-2.55,2.55l-2.55,-2.55zM427.47,85.25l2.55,2.55l-2.55,2.55l-2.55,-2.55zM430.98,85.6l2.55,2.55l-2.55,2.55l-2.55,-2.55zM435.08,85.6l2.55,2.55l-2.55,2.55l-2.55,-2.55zM438.01,85.01l2.55,2.55l-2.55,2.55l-2.55,-2.55zM436.02,92.27l2.55,2.55l-2.55,2.55l-2.55,-2.55zM428.88,125.06l2.55,2.55l-2.55,2.55l-2.55,-2.55zM434.73,143.8l2.55,2.55l-2.55,2.55l-2.55,-2.55zM426.3,151.06l2.55,2.55l-2.55,2.55l-2.55,-2.55zM437.07,156.09l2.55,2.55l-2.55,2.55l-2.55,-2.55zM433.91,160.19l2.55,2.55l-2.55,2.55l-2.55,-2.55zM423.96,162.3l2.55,2.55l-2.55,2.55l-2.55,-2.55zM428.64,162.53l2.55,2.55l-2.55,2.55l-2.55,-2.55zM434.5,162.53l2.55,2.55l-2.55,2.55l-2.55,-2.55zM436.25,163.7l2.55,2.55l-2.55,2.55l-2.55,-2.55zM431.92,166.86l2.55,2.55l-2.55,2.55l-2.55,-2.55zM499.89,99.4l2.55,2.55l-2.55,2.55l-2.55,-2.55zM496.96,102.33l2.55,2.55l-2.55,2.55l-2.55,-2.55zM502.81,101.75l2.55,2.55l-2.55,2.55l-2.55,-2.55zM506.91,102.92l2.55,2.55l-2.55,2.55l-2.55,-2.55zM509.84,104.09l2.55,2.55l-2.55,2.55l-2.55,-2.55zM495.79,104.67l2.55,2.55l-2.55,2.55l-2.55,-2.55zM499.3,105.26l2.55,2.55l-2.55,2.55l-2.55,-2.55zM503.4,105.26l2.55,2.55l-2.55,2.55l-2.55,-2.55zM507.5,105.84l2.55,2.55l-2.55,2.55l-2.55,-2.55zM511.01,105.84l2.55,2.55l-2.55,2.55l-2.55,-2.55zM497.54,107.6l2.55,2.55l-2.55,2.55l-2.55,-2.55zM501.64,108.19l2.55,2.55l-2.55,2.55l-2.55,-2.55zM505.74,108.19l2.55,2.55l-2.55,2.55l-2.55,-2.55zM509.25,108.77l2.55,2.55l-2.55,2.55l-2.55,-2.55zM498.13,110.53l2.55,2.55l-2.55,2.55l-2.55,-2.55zM502.81,110.53l2.55,2.55l-2.55,2.55l-2.55,-2.55zM506.91,111.11l2.55,2.55l-2.55,2.55l-2.55,-2.55zM509.84,111.11l2.55,2.55l-2.55,2.55l-2.55,-2.55zM505.15,113.45l2.55,2.55l-2.55,2.55l-2.55,-2.55zM508.08,112.87l2.55,2.55l-2.55,2.55l-2.55,-2.55zM501.64,118.72l2.55,2.55l-2.55,2.55l-2.55,-2.55zM504.57,118.96l2.55,2.55l-2.55,2.55l-2.55,-2.55zM503.4,129.5l2.55,2.55l-2.55,2.55l-2.55,-2.55zM507.5,128.09l2.55,2.55l-2.55,2.55l-2.55,-2.55zM577.63,63.52l2.55,2.55l-2.55,2.55l-2.55,-2.55zM572.42,67.81l2.55,2.55l-2.55,2.55l-2.55,-2.55zM581.53,82.38l2.55,2.55l-2.55,2.55l-2.55,-2.55zM570.08,86.02l2.55,2.55l-2.55,2.55l-2.55,-2.55zM572.16,85.63l2.55,2.55l-2.55,2.55l-2.55,-2.55zM569.56,88.62l2.55,2.55l-2.55,2.55l-2.55,-2.55zM572.42,89.53l2.55,2.55l-2.55,2.55l-2.55,-2.55zM568.52,91.22l2.55,2.55l-2.55,2.55l-2.55,-2.55zM567.87,93.43l2.55,2.55l-2.55,2.55l-2.55,-2.55zM581.53,87.71l2.55,2.55l-2.55,2.55l-2.55,-2.55zM580.88,89.53l2.55,2.55l-2.55,2.55l-2.55,-2.55zM580.23,91.87l2.55,2.55l-2.55,2.55l-2.55,-2.55zM580.49,97.73l2.55,2.55l-2.55,2.55l-2.55,-2.55zM568.52,113.34l2.55,2.55l-2.55,2.55l-2.55,-2.55zM568.52,113.4l2.55,2.55l-2.55,2.55l-2.55,-2.55zM578.93,121.21l2.55,2.55l-2.55,2.55l-2.55,-2.55zM571.38,158.93l2.55,2.55l-2.55,2.55l-2.55,-2.55zM578.28,160.23l2.55,2.55l-2.55,2.55l-2.55,-2.55zM581.53,160.23l2.55,2.55l-2.55,2.55l-2.55,-2.55zM567.61,167.12l2.55,2.55l-2.55,2.55l-2.55,-2.55zM568.91,167.12l2.55,2.55l-2.55,2.55l-2.55,-2.55zM570.21,167.12l2.55,2.55l-2.55,2.55l-2.55,-2.55zM571.51,167.12l2.55,2.55l-2.55,2.55l-2.55,-2.55zM572.81,167.12l2.55,2.55l-2.55,2.55l-2.55,-2.55zM574.11,167.12l2.55,2.55l-2.55,2.55l-2.55,-2.55zM575.41,167.12l2.55,2.55l-2.55,2.55l-2.55,-2.55zM576.72,167.12l2.55,2.55l-2.55,2.55l-2.55,-2.55zM578.02,167.12l2.55,2.55l-2.55,2.55l-2.55,-2.55zM579.32,167.12l2.55,2.55l-2.55,2.55l-2.55,-2.55zM580.62,167.12l2.55,2.55l-2.55,2.55l-2.55,-2.55zM581.92,167.12l2.55,2.55l-2.55,2.55l-2.55,-2.55zM583.22,167.12l2.55,2.55l-2.55,2.55l-2.55,-2.55zM644.02,49.69l2.55,2.55l-2.55,2.55l-2.55,-2.55zM648.58,49.69l2.55,2.55l-2.55,2.55l-2.55,-2.55zM653.78,49.95l2.55,2.55l-2.55,2.55l-2.55,-2.55zM640.77,55.16l2.55,2.55l-2.55,2.55l-2.55,-2.55zM645.98,55.16l2.55,2.55l-2.55,2.55l-2.55,-2.55zM653.78,51.91l2.55,2.55l-2.55,2.55l-2.55,-2.55zM649.23,60.36l2.55,2.55l-2.55,2.55l-2.55,-2.55zM649.62,63.22l2.55,2.55l-2.55,2.55l-2.55,-2.55zM641.42,64.52l2.55,2.55l-2.55,2.55l-2.55,-2.55zM645.33,74.93l2.55,2.55l-2.55,2.55l-2.55,-2.55zM654.17,74.93l2.55,2.55l-2.55,2.55l-2.55,-2.55zM652.48,84.17l2.55,2.55l-2.55,2.55l-2.55,-2.55zM647.67,88.72l2.55,2.55l-2.55,2.55l-2.55,-2.55zM648.58,95.87l2.55,2.55l-2.55,2.55l-2.55,-2.55zM646.63,104.39l2.55,2.55l-2.55,2.55l-2.55,-2.55zM649.88,104l2.55,2.55l-2.55,2.55l-2.55,-2.55zM653.13,104.65l2.55,2.55l-2.55,2.55l-2.55,-2.55zM644.67,106.21l2.55,2.55l-2.55,2.55l-2.55,-2.55zM647.93,107.25l2.55,2.55l-2.55,2.55l-2.55,-2.55zM649.88,108.82l2.55,2.55l-2.55,2.55l-2.55,-2.55zM649.23,110.9l2.55,2.55l-2.55,2.55l-2.55,-2.55zM642.07,114.8l2.55,2.55l-2.55,2.55l-2.55,-2.55zM642.72,118.7l2.55,2.55l-2.55,2.55l-2.55,-2.55zM641.42,140.43l2.55,2.55l-2.55,2.55l-2.55,-2.55zM643.76,140.43l2.55,2.55l-2.55,2.55l-2.55,-2.55zM646.37,140.43l2.55,2.55l-2.55,2.55l-2.55,-2.55zM649.23,140.43l2.55,2.55l-2.55,2.55l-2.55,-2.55zM651.57,140.43l2.55,2.55l-2.55,2.55l-2.55,-2.55zM653.78,140.43l2.55,2.55l-2.55,2.55l-2.55,-2.55zM653.78,146.28l2.55,2.55l-2.55,2.55l-2.55,-2.55zM651.44,153.82l2.55,2.55l-2.55,2.55l-2.55,-2.55z" fill="#000"/>
<rect x="394.1" y="18.5" width="290.1" height="184" fill="none" stroke="#cccccc" stroke-width="1.3"/>
<text class="tk" x="384.1" y="29.79" text-anchor="end">1.0</text>
<text class="tk" x="384.1" y="58.54" text-anchor="end">0.8</text>
<text class="tk" x="384.1" y="87.29" text-anchor="end">0.6</text>
<text class="tk" x="384.1" y="116.04" text-anchor="end">0.4</text>
<text class="tk" x="384.1" y="144.79" text-anchor="end">0.2</text>
<text class="tk" x="384.1" y="173.54" text-anchor="end">0.0</text>
<text class="tk" x="384.1" y="202.29" text-anchor="end">−0.2</text>
<text class="tk" x="430.36" y="219.8" text-anchor="middle">Storage</text>
<text class="tk" x="502.89" y="219.8" text-anchor="middle">Solar</text>
<text class="tk" x="575.41" y="219.8" text-anchor="middle">Grid</text>
<text class="tk" x="647.94" y="219.8" text-anchor="middle">Aux. heating</text>
<text class="lb" transform="translate(356.2,110.5) rotate(-90)" text-anchor="middle">Fraction</text>
<text class="tt" x="539.15" y="11.4" text-anchor="middle">Gando, Gran Canaria</text>
<text class="pl" x="354.2" y="13.8">b.</text>
</g>
<g>
<path d="M46,264.69H336M46,293.44H336M46,322.19H336M46,350.94H336M46,379.69H336M46,408.44H336M46,437.19H336" stroke="#cccccc" stroke-width="1" fill="none"/>
<path d="M82.75,285L82.76,285.76L82.79,286.51L82.82,287.27L82.86,288.02L82.9,288.78L82.95,289.53L83,290.29L83.07,291.05L83.14,291.8L83.23,292.56L83.33,293.31L83.43,294.07L83.55,294.83L83.66,295.58L83.79,296.34L83.93,297.09L84.09,297.85L84.27,298.6L84.46,299.36L84.69,300.12L84.94,300.87L85.24,301.63L85.58,302.38L85.97,303.14L86.42,303.9L86.92,304.65L87.54,305.41L88.36,306.16L89.3,306.92L90.32,307.67L91.38,308.43L92.56,309.19L93.86,309.94L95.21,310.7L96.53,311.45L97.8,312.21L99.08,312.97L100.34,313.72L101.59,314.48L102.8,315.23L104.04,315.99L105.31,316.74L106.5,317.5L107.55,318.26L108.37,319.01L109.12,319.77L109.81,320.52L110.37,321.28L110.76,322.04L110.98,322.79L111.16,323.55L111.25,324.3L111.21,325.06L111.07,325.81L110.84,326.57L110.19,327.33L109.21,328.08L108.11,328.84L107.03,329.59L105.85,330.35L104.57,331.11L103.3,331.86L102.1,332.62L100.92,333.37L99.76,334.13L98.62,334.88L97.48,335.64L96.35,336.4L95.19,337.15L94.02,337.91L92.9,338.66L91.87,339.42L90.97,340.18L90.19,340.93L89.48,341.69L88.83,342.44L88.23,343.2L87.66,343.95L87.14,344.71L86.64,345.47L86.16,346.22L85.69,346.98L85.18,347.73L84.69,348.49L84.27,349.25L83.99,350L83.79,350.76L83.61,351.51L83.47,352.27L83.35,353.02L83.24,353.78L83.14,354.54L83.04,355.29L82.95,356.05L82.87,356.8L82.8,357.56L82.73,358.32L82.68,359.07L82.63,359.83L82.58,360.58L82.54,361.34L82.5,362.09L82.46,362.85L82.43,363.61L82.41,364.36L82.4,365.12L82.4,365.87L82.42,366.63L82.44,367.39L82.48,368.14L82.52,368.9L82.56,369.65L82.6,370.41L82.65,371.16L82.7,371.92L82.76,372.68L82.84,373.43L82.92,374.19L83,374.94L83.09,375.7L83.17,376.46L83.25,377.21L83.33,377.97L83.39,378.72L83.43,379.48L83.46,380.23L83.49,380.99L83.52,381.75L83.54,382.5L83.56,383.26L83.58,384.01L83.6,384.77L83.62,385.53L83.63,386.28L83.64,387.04L83.65,387.79L83.65,388.55L83.65,389.3L83.65,390.06L83.65,390.82L83.65,391.57L83.65,392.33L83.65,393.08L83.65,393.84L83.65,394.6L83.65,395.35L83.65,396.11L83.65,396.86L83.65,397.62L83.64,398.37L83.62,399.13L83.59,399.89L83.56,400.64L83.53,401.4L83.49,402.15L83.46,402.91L83.43,403.67L83.4,404.42L83.37,405.18L83.34,405.93L83.31,406.69L83.28,407.44L83.25,408.2L81.25,408.2L81.22,407.44L81.19,406.69L81.16,405.93L81.13,405.18L81.1,404.42L81.07,403.67L81.04,402.91L81.01,402.15L80.97,401.4L80.94,400.64L80.91,399.89L80.88,399.13L80.86,398.37L80.85,397.62L80.85,396.86L80.85,396.11L80.85,395.35L80.85,394.6L80.85,393.84L80.85,393.08L80.85,392.33L80.85,391.57L80.85,390.82L80.85,390.06L80.85,389.3L80.85,388.55L80.85,387.79L80.86,387.04L80.87,386.28L80.88,385.53L80.9,384.77L80.92,384.01L80.94,383.26L80.96,382.5L80.98,381.75L81.01,380.99L81.04,380.23L81.07,379.48L81.11,378.72L81.17,377.97L81.25,377.21L81.33,376.46L81.41,375.7L81.5,374.94L81.58,374.19L81.66,373.43L81.74,372.68L81.8,371.92L81.85,371.16L81.9,370.41L81.94,369.65L81.98,368.9L82.02,368.14L82.06,367.39L82.08,366.63L82.1,365.87L82.1,365.12L82.09,364.36L82.07,363.61L82.04,362.85L82,362.09L81.96,361.34L81.92,360.58L81.87,359.83L81.82,359.07L81.77,358.32L81.7,357.56L81.63,356.8L81.55,356.05L81.46,355.29L81.36,354.54L81.26,353.78L81.15,353.02L81.03,352.27L80.89,351.51L80.71,350.76L80.51,350L80.23,349.25L79.81,348.49L79.32,347.73L78.81,346.98L78.34,346.22L77.86,345.47L77.36,344.71L76.84,343.95L76.27,343.2L75.67,342.44L75.02,341.69L74.31,340.93L73.53,340.18L72.63,339.42L71.6,338.66L70.48,337.91L69.31,337.15L68.15,336.4L67.02,335.64L65.88,334.88L64.74,334.13L63.58,333.37L62.4,332.62L61.2,331.86L59.93,331.11L58.65,330.35L57.47,329.59L56.39,328.84L55.29,328.08L54.31,327.33L53.66,326.57L53.43,325.81L53.29,325.06L53.25,324.3L53.34,323.55L53.52,322.79L53.74,322.04L54.13,321.28L54.69,320.52L55.38,319.77L56.13,319.01L56.95,318.26L58,317.5L59.19,316.74L60.46,315.99L61.7,315.23L62.91,314.48L64.16,313.72L65.42,312.97L66.7,312.21L67.97,311.45L69.29,310.7L70.64,309.94L71.94,309.19L73.12,308.43L74.18,307.67L75.2,306.92L76.14,306.16L76.96,305.41L77.58,304.65L78.08,303.9L78.53,303.14L78.92,302.38L79.26,301.63L79.56,300.87L79.81,300.12L80.04,299.36L80.23,298.6L80.41,297.85L80.57,297.09L80.71,296.34L80.84,295.58L80.95,294.83L81.07,294.07L81.17,293.31L81.27,292.56L81.36,291.8L81.43,291.05L81.5,290.29L81.55,289.53L81.6,288.78L81.64,288.02L81.68,287.27L81.71,286.51L81.74,285.76L81.75,285Z" fill="#C55120"/>
<path d="M155.65,284.5L155.7,285.26L155.75,286.02L155.78,286.78L155.81,287.54L155.84,288.29L155.85,289.05L155.85,289.81L155.84,290.57L155.82,291.33L155.8,292.09L155.77,292.85L155.73,293.61L155.7,294.36L155.67,295.12L155.63,295.88L155.6,296.64L155.56,297.4L155.51,298.16L155.47,298.92L155.43,299.68L155.39,300.44L155.35,301.19L155.32,301.95L155.29,302.71L155.25,303.47L155.22,304.23L155.19,304.99L155.17,305.75L155.15,306.51L155.15,307.26L155.16,308.02L155.17,308.78L155.2,309.54L155.23,310.3L155.26,311.06L155.3,311.82L155.33,312.58L155.37,313.34L155.43,314.09L155.49,314.85L155.57,315.61L155.65,316.37L155.73,317.13L155.82,317.89L155.91,318.65L156.01,319.41L156.12,320.16L156.24,320.92L156.36,321.68L156.49,322.44L156.63,323.2L156.78,323.96L156.97,324.72L157.21,325.48L157.54,326.24L157.93,326.99L158.36,327.75L158.81,328.51L159.27,329.27L159.76,330.03L160.29,330.79L160.85,331.55L161.46,332.31L162.1,333.06L162.79,333.82L163.53,334.58L164.35,335.34L165.25,336.1L166.3,336.86L167.51,337.62L168.78,338.38L170.04,339.14L171.27,339.89L172.51,340.65L173.77,341.41L175.06,342.17L176.39,342.93L177.82,343.69L179.28,344.45L180.67,345.21L181.92,345.96L183.23,346.72L183.7,347.48L183.62,348.24L183.47,349L183.26,349.76L182.75,350.52L181.93,351.28L180.92,352.04L179.8,352.79L178.65,353.55L177.54,354.31L176.27,355.07L174.88,355.83L173.45,356.59L172.02,357.35L170.67,358.11L169.42,358.86L168.17,359.62L166.94,360.38L165.77,361.14L164.67,361.9L163.68,362.66L162.75,363.42L161.85,364.18L161.02,364.94L160.25,365.69L159.57,366.45L159,367.21L158.48,367.97L158,368.73L157.56,369.49L157.19,370.25L156.88,371.01L156.64,371.76L156.43,372.52L156.24,373.28L156.08,374.04L155.95,374.8L155.86,375.56L155.8,376.32L155.75,377.08L155.7,377.84L155.67,378.59L155.63,379.35L155.6,380.11L155.57,380.87L155.54,381.63L155.52,382.39L155.49,383.15L155.46,383.91L155.43,384.66L155.41,385.42L155.39,386.18L155.37,386.94L155.35,387.7L154.15,387.7L154.13,386.94L154.11,386.18L154.09,385.42L154.07,384.66L154.04,383.91L154.01,383.15L153.98,382.39L153.96,381.63L153.93,380.87L153.9,380.11L153.87,379.35L153.83,378.59L153.8,377.84L153.75,377.08L153.7,376.32L153.64,375.56L153.55,374.8L153.42,374.04L153.26,373.28L153.07,372.52L152.86,371.76L152.62,371.01L152.31,370.25L151.94,369.49L151.5,368.73L151.02,367.97L150.5,367.21L149.93,366.45L149.25,365.69L148.48,364.94L147.65,364.18L146.75,363.42L145.82,362.66L144.83,361.9L143.73,361.14L142.56,360.38L141.33,359.62L140.08,358.86L138.83,358.11L137.48,357.35L136.05,356.59L134.62,355.83L133.23,355.07L131.96,354.31L130.85,353.55L129.7,352.79L128.58,352.04L127.57,351.28L126.75,350.52L126.24,349.76L126.03,349L125.88,348.24L125.8,347.48L126.27,346.72L127.58,345.96L128.83,345.21L130.22,344.45L131.68,343.69L133.11,342.93L134.44,342.17L135.73,341.41L136.99,340.65L138.23,339.89L139.46,339.14L140.72,338.38L141.99,337.62L143.2,336.86L144.25,336.1L145.15,335.34L145.97,334.58L146.71,333.82L147.4,333.06L148.04,332.31L148.65,331.55L149.21,330.79L149.74,330.03L150.23,329.27L150.69,328.51L151.14,327.75L151.57,326.99L151.96,326.24L152.29,325.48L152.53,324.72L152.72,323.96L152.87,323.2L153.01,322.44L153.14,321.68L153.26,320.92L153.38,320.16L153.49,319.41L153.59,318.65L153.68,317.89L153.77,317.13L153.85,316.37L153.93,315.61L154.01,314.85L154.07,314.09L154.13,313.34L154.17,312.58L154.2,311.82L154.24,311.06L154.27,310.3L154.3,309.54L154.33,308.78L154.34,308.02L154.35,307.26L154.35,306.51L154.33,305.75L154.31,304.99L154.28,304.23L154.25,303.47L154.21,302.71L154.18,301.95L154.15,301.19L154.11,300.44L154.07,299.68L154.03,298.92L153.99,298.16L153.94,297.4L153.9,296.64L153.87,295.88L153.83,295.12L153.8,294.36L153.77,293.61L153.73,292.85L153.7,292.09L153.68,291.33L153.66,290.57L153.65,289.81L153.65,289.05L153.66,288.29L153.69,287.54L153.72,286.78L153.75,286.02L153.8,285.26L153.85,284.5Z" fill="#DCA066"/>
<path d="M227.85,316.5L227.85,317.26L227.84,318.02L227.82,318.77L227.81,319.53L227.79,320.29L227.77,321.05L227.74,321.8L227.71,322.56L227.68,323.32L227.65,324.08L227.61,324.84L227.57,325.59L227.52,326.35L227.48,327.11L227.45,327.87L227.43,328.63L227.41,329.38L227.39,330.14L227.37,330.9L227.36,331.66L227.34,332.41L227.33,333.17L227.33,333.93L227.32,334.69L227.32,335.45L227.32,336.2L227.32,336.96L227.32,337.72L227.31,338.48L227.31,339.24L227.31,339.99L227.31,340.75L227.31,341.51L227.31,342.27L227.31,343.02L227.31,343.78L227.31,344.54L227.31,345.3L227.31,346.06L227.3,346.81L227.3,347.57L227.3,348.33L227.3,349.09L227.3,349.85L227.3,350.6L227.3,351.36L227.3,352.12L227.3,352.88L227.3,353.63L227.3,354.39L227.3,355.15L227.3,355.91L227.3,356.67L227.3,357.42L227.3,358.18L227.3,358.94L227.3,359.7L227.3,360.46L227.3,361.21L227.3,361.97L227.31,362.73L227.31,363.49L227.32,364.24L227.32,365L227.33,365.76L227.33,366.52L227.34,367.28L227.35,368.03L227.36,368.79L227.36,369.55L227.37,370.31L227.39,371.07L227.4,371.82L227.42,372.58L227.44,373.34L227.46,374.1L227.48,374.85L227.51,375.61L227.54,376.37L227.56,377.13L227.59,377.89L227.62,378.64L227.65,379.4L227.68,380.16L227.71,380.92L227.75,381.68L227.78,382.43L227.82,383.19L227.87,383.95L227.92,384.71L227.97,385.46L228.03,386.22L228.09,386.98L228.17,387.74L228.25,388.5L228.35,389.25L228.47,390.01L228.62,390.77L228.81,391.53L229.05,392.29L229.36,393.04L229.82,393.8L230.41,394.56L231.22,395.32L232.23,396.07L233.32,396.83L234.54,397.59L235.94,398.35L237.62,399.11L239.46,399.86L241.27,400.62L243.02,401.38L244.81,402.14L246.7,402.9L248.83,403.65L251.03,404.41L253.02,405.17L255.04,405.93L255.89,406.68L256.01,407.44L256.05,408.2L198.45,408.2L198.49,407.44L198.61,406.68L199.46,405.93L201.48,405.17L203.47,404.41L205.67,403.65L207.8,402.9L209.69,402.14L211.48,401.38L213.23,400.62L215.04,399.86L216.88,399.11L218.56,398.35L219.96,397.59L221.18,396.83L222.27,396.07L223.28,395.32L224.09,394.56L224.68,393.8L225.14,393.04L225.45,392.29L225.69,391.53L225.88,390.77L226.03,390.01L226.15,389.25L226.25,388.5L226.33,387.74L226.41,386.98L226.47,386.22L226.53,385.46L226.58,384.71L226.63,383.95L226.68,383.19L226.72,382.43L226.75,381.68L226.79,380.92L226.82,380.16L226.85,379.4L226.88,378.64L226.91,377.89L226.94,377.13L226.96,376.37L226.99,375.61L227.02,374.85L227.04,374.1L227.06,373.34L227.08,372.58L227.1,371.82L227.11,371.07L227.13,370.31L227.14,369.55L227.14,368.79L227.15,368.03L227.16,367.28L227.17,366.52L227.17,365.76L227.18,365L227.18,364.24L227.19,363.49L227.19,362.73L227.2,361.97L227.2,361.21L227.2,360.46L227.2,359.7L227.2,358.94L227.2,358.18L227.2,357.42L227.2,356.67L227.2,355.91L227.2,355.15L227.2,354.39L227.2,353.63L227.2,352.88L227.2,352.12L227.2,351.36L227.2,350.6L227.2,349.85L227.2,349.09L227.2,348.33L227.2,347.57L227.2,346.81L227.19,346.06L227.19,345.3L227.19,344.54L227.19,343.78L227.19,343.02L227.19,342.27L227.19,341.51L227.19,340.75L227.19,339.99L227.19,339.24L227.19,338.48L227.18,337.72L227.18,336.96L227.18,336.2L227.18,335.45L227.18,334.69L227.17,333.93L227.17,333.17L227.16,332.41L227.14,331.66L227.13,330.9L227.11,330.14L227.09,329.38L227.07,328.63L227.05,327.87L227.02,327.11L226.98,326.35L226.93,325.59L226.89,324.84L226.85,324.08L226.82,323.32L226.79,322.56L226.76,321.8L226.73,321.05L226.71,320.29L226.69,319.53L226.68,318.77L226.66,318.02L226.65,317.26L226.65,316.5Z" fill="#60B1A3"/>
<path d="M319.55,300.1L319.55,300.86L319.55,301.61L319.55,302.37L319.55,303.13L319.55,303.89L319.48,304.64L319.33,305.4L319.13,306.16L318.91,306.91L318.67,307.67L318.45,308.43L318.2,309.19L317.92,309.94L317.62,310.7L317.3,311.46L316.99,312.21L316.69,312.97L316.41,313.73L316.14,314.49L315.87,315.24L315.59,316L315.32,316.76L315.06,317.51L314.84,318.27L314.66,319.03L314.54,319.79L314.44,320.54L314.34,321.3L314.26,322.06L314.18,322.81L314.12,323.57L314.08,324.33L314.05,325.09L314.05,325.84L314.07,326.6L314.11,327.36L314.17,328.11L314.24,328.87L314.33,329.63L314.42,330.39L314.52,331.14L314.63,331.9L314.79,332.66L315,333.41L315.24,334.17L315.51,334.93L315.79,335.69L316.07,336.44L316.35,337.2L316.64,337.96L316.94,338.71L317.27,339.47L317.6,340.23L317.94,340.99L318.29,341.74L318.63,342.5L318.96,343.26L319.3,344.01L319.64,344.77L319.98,345.53L320.32,346.29L320.66,347.04L321.01,347.8L321.34,348.56L321.68,349.31L322.01,350.07L322.35,350.83L322.68,351.59L323,352.34L323.32,353.1L323.63,353.86L323.93,354.61L324.23,355.37L324.53,356.13L324.82,356.89L325.1,357.64L325.39,358.4L325.69,359.16L325.98,359.91L326.27,360.67L326.54,361.43L326.8,362.19L327.03,362.94L327.23,363.7L327.4,364.46L327.56,365.21L327.71,365.97L327.85,366.73L327.98,367.49L328.09,368.24L328.19,369L328.27,369.76L328.34,370.51L328.41,371.27L328.48,372.03L328.54,372.79L328.59,373.54L328.63,374.3L328.65,375.06L328.65,375.81L328.64,376.57L328.63,377.33L328.61,378.09L328.59,378.84L328.56,379.6L328.51,380.36L328.41,381.11L328.26,381.87L328.08,382.63L327.88,383.39L327.67,384.14L327.42,384.9L327.12,385.66L326.76,386.41L326.36,387.17L325.93,387.93L325.47,388.69L325,389.44L324.52,390.2L323.99,390.96L323.4,391.71L322.77,392.47L322.12,393.23L321.46,393.99L320.81,394.74L320.19,395.5L319.6,396.26L319.01,397.01L318.43,397.77L317.86,398.53L317.3,399.29L316.74,400.04L316.2,400.8L315.68,401.56L315.17,402.31L314.66,403.07L314.17,403.83L313.69,404.59L313.21,405.34L312.76,406.1L312.31,406.86L311.89,407.61L311.48,408.37L311.08,409.13L310.69,409.89L310.32,410.64L309.95,411.4L309.59,412.16L309.23,412.91L308.88,413.67L308.53,414.43L308.2,415.19L307.87,415.94L307.54,416.7L307.21,417.46L306.87,418.21L306.51,418.97L306.14,419.73L305.75,420.49L305.36,421.24L304.95,422L294.55,422L294.14,421.24L293.75,420.49L293.36,419.73L292.99,418.97L292.63,418.21L292.29,417.46L291.96,416.7L291.63,415.94L291.3,415.19L290.97,414.43L290.62,413.67L290.27,412.91L289.91,412.16L289.55,411.4L289.18,410.64L288.81,409.89L288.42,409.13L288.02,408.37L287.61,407.61L287.19,406.86L286.74,406.1L286.29,405.34L285.81,404.59L285.33,403.83L284.84,403.07L284.33,402.31L283.82,401.56L283.3,400.8L282.76,400.04L282.2,399.29L281.64,398.53L281.07,397.77L280.49,397.01L279.9,396.26L279.31,395.5L278.69,394.74L278.04,393.99L277.38,393.23L276.73,392.47L276.1,391.71L275.51,390.96L274.98,390.2L274.5,389.44L274.03,388.69L273.57,387.93L273.14,387.17L272.74,386.41L272.38,385.66L272.08,384.9L271.83,384.14L271.62,383.39L271.42,382.63L271.24,381.87L271.09,381.11L270.99,380.36L270.94,379.6L270.91,378.84L270.89,378.09L270.87,377.33L270.86,376.57L270.85,375.81L270.85,375.06L270.87,374.3L270.91,373.54L270.96,372.79L271.02,372.03L271.09,371.27L271.16,370.51L271.23,369.76L271.31,369L271.41,368.24L271.52,367.49L271.65,366.73L271.79,365.97L271.94,365.21L272.1,364.46L272.27,363.7L272.47,362.94L272.7,362.19L272.96,361.43L273.23,360.67L273.52,359.91L273.81,359.16L274.11,358.4L274.4,357.64L274.68,356.89L274.97,356.13L275.27,355.37L275.57,354.61L275.87,353.86L276.18,353.1L276.5,352.34L276.82,351.59L277.15,350.83L277.49,350.07L277.82,349.31L278.16,348.56L278.49,347.8L278.84,347.04L279.18,346.29L279.52,345.53L279.86,344.77L280.2,344.01L280.54,343.26L280.87,342.5L281.21,341.74L281.56,340.99L281.9,340.23L282.23,339.47L282.56,338.71L282.86,337.96L283.15,337.2L283.43,336.44L283.71,335.69L283.99,334.93L284.26,334.17L284.5,333.41L284.71,332.66L284.87,331.9L284.98,331.14L285.08,330.39L285.17,329.63L285.26,328.87L285.33,328.11L285.39,327.36L285.43,326.6L285.45,325.84L285.45,325.09L285.42,324.33L285.38,323.57L285.32,322.81L285.24,322.06L285.16,321.3L285.06,320.54L284.96,319.79L284.84,319.03L284.66,318.27L284.44,317.51L284.18,316.76L283.91,316L283.63,315.24L283.36,314.49L283.09,313.73L282.81,312.97L282.51,312.21L282.2,311.46L281.88,310.7L281.58,309.94L281.3,309.19L281.05,308.43L280.83,307.67L280.59,306.91L280.37,306.16L280.17,305.4L280.02,304.64L279.95,303.89L279.95,303.13L279.95,302.37L279.95,301.61L279.95,300.86L279.95,300.1Z" fill="#0D5558"/>
<path d="M53.25,328.4H111.45M125.75,346.65H183.95M198.25,406.5H256.45M270.75,352.7H328.95" stroke="#222" stroke-width="1.3" fill="none"/>
<path d="M81.27,282.29l2.55,2.55l-2.55,2.55l-2.55,-2.55zM79.38,307.16l2.55,2.55l-2.55,2.55l-2.55,-2.55zM81.27,311.09l2.55,2.55l-2.55,2.55l-2.55,-2.55zM84.91,311.81l2.55,2.55l-2.55,2.55l-2.55,-2.55zM78.36,314.72l2.55,2.55l-2.55,2.55l-2.55,-2.55zM83.45,314.72l2.55,2.55l-2.55,2.55l-2.55,-2.55zM86.36,315.45l2.55,2.55l-2.55,2.55l-2.55,-2.55zM76.18,318.36l2.55,2.55l-2.55,2.55l-2.55,-2.55zM80.55,318.36l2.55,2.55l-2.55,2.55l-2.55,-2.55zM84.91,318.36l2.55,2.55l-2.55,2.55l-2.55,-2.55zM88.55,319.09l2.55,2.55l-2.55,2.55l-2.55,-2.55zM74.73,320.83l2.55,2.55l-2.55,2.55l-2.55,-2.55zM79.09,321.27l2.55,2.55l-2.55,2.55l-2.55,-2.55zM83.45,321.7l2.55,2.55l-2.55,2.55l-2.55,-2.55zM87.82,322l2.55,2.55l-2.55,2.55l-2.55,-2.55zM90,320.83l2.55,2.55l-2.55,2.55l-2.55,-2.55zM77.64,324.18l2.55,2.55l-2.55,2.55l-2.55,-2.55zM82,324.18l2.55,2.55l-2.55,2.55l-2.55,-2.55zM86.36,324.9l2.55,2.55l-2.55,2.55l-2.55,-2.55zM76.91,327.81l2.55,2.55l-2.55,2.55l-2.55,-2.55zM84.91,327.81l2.55,2.55l-2.55,2.55l-2.55,-2.55zM88.55,326.36l2.55,2.55l-2.55,2.55l-2.55,-2.55zM77.64,331.45l2.55,2.55l-2.55,2.55l-2.55,-2.55zM78.36,335.09l2.55,2.55l-2.55,2.55l-2.55,-2.55zM87.82,334.36l2.55,2.55l-2.55,2.55l-2.55,-2.55zM75.45,338.72l2.55,2.55l-2.55,2.55l-2.55,-2.55zM79.09,339.45l2.55,2.55l-2.55,2.55l-2.55,-2.55zM78.8,381l2.55,2.55l-2.55,2.55l-2.55,-2.55zM75.45,395.25l2.55,2.55l-2.55,2.55l-2.55,-2.55zM85.35,405l2.55,2.55l-2.55,2.55l-2.55,-2.55zM82.5,316.95l2.55,2.55l-2.55,2.55l-2.55,-2.55zM84.4,319.85l2.55,2.55l-2.55,2.55l-2.55,-2.55zM83,322.85l2.55,2.55l-2.55,2.55l-2.55,-2.55zM85.4,324.75l2.55,2.55l-2.55,2.55l-2.55,-2.55zM81.5,320.45l2.55,2.55l-2.55,2.55l-2.55,-2.55zM86,327.45l2.55,2.55l-2.55,2.55l-2.55,-2.55zM153.69,282l2.55,2.55l-2.55,2.55l-2.55,-2.55zM152.53,286.65l2.55,2.55l-2.55,2.55l-2.55,-2.55zM152.09,328.83l2.55,2.55l-2.55,2.55l-2.55,-2.55zM158.64,327.52l2.55,2.55l-2.55,2.55l-2.55,-2.55zM148.45,333.34l2.55,2.55l-2.55,2.55l-2.55,-2.55zM157.18,331.45l2.55,2.55l-2.55,2.55l-2.55,-2.55zM156.45,335.09l2.55,2.55l-2.55,2.55l-2.55,-2.55zM147.73,338.72l2.55,2.55l-2.55,2.55l-2.55,-2.55zM149.91,340.18l2.55,2.55l-2.55,2.55l-2.55,-2.55zM160.09,339.45l2.55,2.55l-2.55,2.55l-2.55,-2.55zM156.45,340.18l2.55,2.55l-2.55,2.55l-2.55,-2.55zM148.45,333.18l2.55,2.55l-2.55,2.55l-2.55,-2.55zM156.75,334.63l2.55,2.55l-2.55,2.55l-2.55,-2.55zM147.73,339l2.55,2.55l-2.55,2.55l-2.55,-2.55zM149.91,341.18l2.55,2.55l-2.55,2.55l-2.55,-2.55zM157.18,340.45l2.55,2.55l-2.55,2.55l-2.55,-2.55zM160.38,339.43l2.55,2.55l-2.55,2.55l-2.55,-2.55zM158.64,343.36l2.55,2.55l-2.55,2.55l-2.55,-2.55zM161.25,344.09l2.55,2.55l-2.55,2.55l-2.55,-2.55zM147,346.27l2.55,2.55l-2.55,2.55l-2.55,-2.55zM150.64,347l2.55,2.55l-2.55,2.55l-2.55,-2.55zM154.27,346.27l2.55,2.55l-2.55,2.55l-2.55,-2.55zM157.91,347l2.55,2.55l-2.55,2.55l-2.55,-2.55zM161.55,347l2.55,2.55l-2.55,2.55l-2.55,-2.55zM149.91,349.9l2.55,2.55l-2.55,2.55l-2.55,-2.55zM153.98,350.63l2.55,2.55l-2.55,2.55l-2.55,-2.55zM158.64,350.63l2.55,2.55l-2.55,2.55l-2.55,-2.55zM161.25,352.09l2.55,2.55l-2.55,2.55l-2.55,-2.55zM154.27,354.27l2.55,2.55l-2.55,2.55l-2.55,-2.55zM157.18,353.98l2.55,2.55l-2.55,2.55l-2.55,-2.55zM161.25,355.43l2.55,2.55l-2.55,2.55l-2.55,-2.55zM155.29,360.09l2.55,2.55l-2.55,2.55l-2.55,-2.55zM159.8,363.72l2.55,2.55l-2.55,2.55l-2.55,-2.55zM148.45,385.1l2.55,2.55l-2.55,2.55l-2.55,-2.55zM147,346.35l2.55,2.55l-2.55,2.55l-2.55,-2.55zM149.5,346.65l2.55,2.55l-2.55,2.55l-2.55,-2.55zM152,346.15l2.55,2.55l-2.55,2.55l-2.55,-2.55zM154.5,346.55l2.55,2.55l-2.55,2.55l-2.55,-2.55zM157,346.25l2.55,2.55l-2.55,2.55l-2.55,-2.55zM159.5,346.65l2.55,2.55l-2.55,2.55l-2.55,-2.55zM162,346.35l2.55,2.55l-2.55,2.55l-2.55,-2.55zM232.36,314.43l2.55,2.55l-2.55,2.55l-2.55,-2.55zM220.2,386.19l2.55,2.55l-2.55,2.55l-2.55,-2.55zM219.85,405.97l2.55,2.55l-2.55,2.55l-2.55,-2.55zM221.02,405.97l2.55,2.55l-2.55,2.55l-2.55,-2.55zM222.19,405.97l2.55,2.55l-2.55,2.55l-2.55,-2.55zM223.36,405.97l2.55,2.55l-2.55,2.55l-2.55,-2.55zM224.53,405.97l2.55,2.55l-2.55,2.55l-2.55,-2.55zM225.7,405.97l2.55,2.55l-2.55,2.55l-2.55,-2.55zM226.88,405.97l2.55,2.55l-2.55,2.55l-2.55,-2.55zM228.05,405.97l2.55,2.55l-2.55,2.55l-2.55,-2.55zM229.22,405.97l2.55,2.55l-2.55,2.55l-2.55,-2.55zM230.39,405.97l2.55,2.55l-2.55,2.55l-2.55,-2.55zM231.56,405.97l2.55,2.55l-2.55,2.55l-2.55,-2.55zM232.73,405.97l2.55,2.55l-2.55,2.55l-2.55,-2.55zM233.9,405.97l2.55,2.55l-2.55,2.55l-2.55,-2.55zM293.16,298.56l2.55,2.55l-2.55,2.55l-2.55,-2.55zM295.64,297.98l2.55,2.55l-2.55,2.55l-2.55,-2.55zM298.11,299l2.55,2.55l-2.55,2.55l-2.55,-2.55zM300.73,298.27l2.55,2.55l-2.55,2.55l-2.55,-2.55zM303.35,298.56l2.55,2.55l-2.55,2.55l-2.55,-2.55zM305.82,299l2.55,2.55l-2.55,2.55l-2.55,-2.55zM302.18,301.47l2.55,2.55l-2.55,2.55l-2.55,-2.55zM305.09,300.89l2.55,2.55l-2.55,2.55l-2.55,-2.55zM296.07,308.74l2.55,2.55l-2.55,2.55l-2.55,-2.55zM305.82,307.72l2.55,2.55l-2.55,2.55l-2.55,-2.55zM302.18,311.36l2.55,2.55l-2.55,2.55l-2.55,-2.55zM304.07,332.45l2.55,2.55l-2.55,2.55l-2.55,-2.55zM302.62,339.72l2.55,2.55l-2.55,2.55l-2.55,-2.55zM293.16,347.72l2.55,2.55l-2.55,2.55l-2.55,-2.55zM296.07,347.43l2.55,2.55l-2.55,2.55l-2.55,-2.55zM301.45,347.72l2.55,2.55l-2.55,2.55l-2.55,-2.55zM304.36,347.43l2.55,2.55l-2.55,2.55l-2.55,-2.55zM306.55,347.72l2.55,2.55l-2.55,2.55l-2.55,-2.55zM299.27,350.63l2.55,2.55l-2.55,2.55l-2.55,-2.55zM294.47,355l2.55,2.55l-2.55,2.55l-2.55,-2.55zM302.62,355.29l2.55,2.55l-2.55,2.55l-2.55,-2.55zM297.82,363.45l2.55,2.55l-2.55,2.55l-2.55,-2.55zM303.35,362.72l2.55,2.55l-2.55,2.55l-2.55,-2.55zM296.36,366.36l2.55,2.55l-2.55,2.55l-2.55,-2.55zM301.16,368.54l2.55,2.55l-2.55,2.55l-2.55,-2.55zM296.36,371.16l2.55,2.55l-2.55,2.55l-2.55,-2.55zM292.73,381.34l2.55,2.55l-2.55,2.55l-2.55,-2.55zM295.64,381.63l2.55,2.55l-2.55,2.55l-2.55,-2.55zM298.11,381.34l2.55,2.55l-2.55,2.55l-2.55,-2.55zM300.73,382.36l2.55,2.55l-2.55,2.55l-2.55,-2.55zM303.64,383.81l2.55,2.55l-2.55,2.55l-2.55,-2.55zM305.82,381.63l2.55,2.55l-2.55,2.55l-2.55,-2.55zM299.27,385.27l2.55,2.55l-2.55,2.55l-2.55,-2.55zM304.36,386.72l2.55,2.55l-2.55,2.55l-2.55,-2.55zM294.47,393.56l2.55,2.55l-2.55,2.55l-2.55,-2.55zM300,402.72l2.55,2.55l-2.55,2.55l-2.55,-2.55zM301.89,414.36l2.55,2.55l-2.55,2.55l-2.55,-2.55zM300,419.45l2.55,2.55l-2.55,2.55l-2.55,-2.55z" fill="#000"/>
<rect x="46" y="257.5" width="290" height="184" fill="none" stroke="#cccccc" stroke-width="1.3"/>
<text class="tk" x="36" y="268.79" text-anchor="end">1.0</text>
<text class="tk" x="36" y="297.54" text-anchor="end">0.8</text>
<text class="tk" x="36" y="326.29" text-anchor="end">0.6</text>
<text class="tk" x="36" y="355.04" text-anchor="end">0.4</text>
<text class="tk" x="36" y="383.79" text-anchor="end">0.2</text>
<text class="tk" x="36" y="412.54" text-anchor="end">0.0</text>
<text class="tk" x="36" y="441.29" text-anchor="end">−0.2</text>
<text class="tk" x="82.25" y="458.8" text-anchor="middle">Storage</text>
<text class="tk" x="154.75" y="458.8" text-anchor="middle">Solar</text>
<text class="tk" x="227.25" y="458.8" text-anchor="middle">Grid</text>
<text class="tk" x="299.75" y="458.8" text-anchor="middle">Aux. heating</text>
<text class="lb" transform="translate(8.1,349.5) rotate(-90)" text-anchor="middle">Fraction</text>
<text class="tt" x="191" y="250.4" text-anchor="middle">Tijuana, Mexico</text>
<text class="pl" x="6.1" y="252.8">c.</text>
</g>
<g>
<path d="M394.1,264.69H684.2M394.1,293.44H684.2M394.1,322.19H684.2M394.1,350.94H684.2M394.1,379.69H684.2M394.1,408.44H684.2M394.1,437.19H684.2" stroke="#cccccc" stroke-width="1" fill="none"/>
<path d="M434.36,290L434.68,290.76L435.04,291.52L435.41,292.27L435.82,293.03L436.24,293.79L436.69,294.55L437.16,295.31L437.66,296.07L438.2,296.82L438.78,297.58L439.37,298.34L439.98,299.1L440.59,299.86L441.22,300.62L441.86,301.38L442.52,302.13L443.2,302.89L443.89,303.65L444.6,304.41L445.32,305.17L446.08,305.93L446.87,306.68L447.69,307.44L448.51,308.2L449.33,308.96L450.15,309.72L450.93,310.48L451.7,311.23L452.46,311.99L453.21,312.75L453.95,313.51L454.65,314.27L455.32,315.02L455.96,315.78L456.61,316.54L457.23,317.3L457.77,318.06L458.18,318.82L458.49,319.57L458.78,320.33L459.03,321.09L459.22,321.85L459.34,322.61L459.36,323.37L459.32,324.12L459.24,324.88L459.13,325.64L459,326.4L458.83,327.16L458.57,327.92L458.24,328.68L457.86,329.43L457.47,330.19L457.05,330.95L456.59,331.71L456.08,332.47L455.51,333.23L454.86,333.98L454.06,334.74L453.15,335.5L452.19,336.26L451.24,337.02L450.27,337.77L449.26,338.53L448.3,339.29L447.45,340.05L446.65,340.81L445.89,341.57L445.15,342.32L444.44,343.08L443.74,343.84L443.04,344.6L442.35,345.36L441.69,346.12L441.07,346.88L440.51,347.63L440.01,348.39L439.55,349.15L439.13,349.91L438.72,350.67L438.32,351.43L437.92,352.18L437.51,352.94L437.11,353.7L436.74,354.46L436.4,355.22L436.08,355.98L435.77,356.73L435.49,357.49L435.23,358.25L435.01,359.01L434.83,359.77L434.66,360.52L434.5,361.28L434.38,362.04L434.33,362.8L434.32,363.56L434.33,364.32L434.33,365.07L434.34,365.83L434.36,366.59L434.37,367.35L434.39,368.11L434.41,368.87L434.43,369.62L434.45,370.38L434.48,371.14L434.53,371.9L434.59,372.66L434.67,373.42L434.76,374.18L434.85,374.93L434.95,375.69L435.06,376.45L435.17,377.21L435.3,377.97L435.45,378.73L435.61,379.48L435.77,380.24L435.92,381L436.06,381.76L436.18,382.52L436.29,383.27L436.39,384.03L436.48,384.79L436.58,385.55L436.66,386.31L436.75,387.07L436.82,387.83L436.9,388.58L436.99,389.34L437.07,390.1L437.16,390.86L437.24,391.62L437.3,392.38L437.34,393.13L437.36,393.89L437.36,394.65L437.36,395.41L437.36,396.17L437.36,396.93L437.36,397.68L437.36,398.44L437.36,399.2L437.36,399.96L437.35,400.72L437.33,401.48L437.29,402.23L437.25,402.99L437.2,403.75L437.14,404.51L437.09,405.27L437.03,406.02L436.95,406.78L436.86,407.54L436.76,408.3L423.96,408.3L423.87,407.54L423.77,406.78L423.7,406.02L423.64,405.27L423.58,404.51L423.53,403.75L423.48,402.99L423.43,402.23L423.4,401.48L423.37,400.72L423.36,399.96L423.36,399.2L423.36,398.44L423.36,397.68L423.36,396.93L423.36,396.17L423.36,395.41L423.36,394.65L423.36,393.89L423.38,393.13L423.43,392.38L423.49,391.62L423.57,390.86L423.65,390.1L423.74,389.34L423.82,388.58L423.9,387.83L423.98,387.07L424.06,386.31L424.15,385.55L424.24,384.79L424.34,384.03L424.44,383.27L424.55,382.52L424.67,381.76L424.8,381L424.96,380.24L425.12,379.48L425.27,378.73L425.42,377.97L425.56,377.21L425.67,376.45L425.77,375.69L425.87,374.93L425.97,374.18L426.06,373.42L426.13,372.66L426.2,371.9L426.24,371.14L426.27,370.38L426.3,369.62L426.32,368.87L426.34,368.11L426.35,367.35L426.37,366.59L426.38,365.83L426.39,365.07L426.4,364.32L426.4,363.56L426.4,362.8L426.34,362.04L426.22,361.28L426.07,360.52L425.9,359.77L425.72,359.01L425.5,358.25L425.24,357.49L424.95,356.73L424.64,355.98L424.33,355.22L423.99,354.46L423.61,353.7L423.21,352.94L422.81,352.18L422.4,351.43L422,350.67L421.6,349.91L421.17,349.15L420.72,348.39L420.22,347.63L419.66,346.88L419.04,346.12L418.38,345.36L417.69,344.6L416.99,343.84L416.28,343.08L415.57,342.32L414.84,341.57L414.07,340.81L413.27,340.05L412.42,339.29L411.47,338.53L410.46,337.77L409.48,337.02L408.53,336.26L407.57,335.5L406.66,334.74L405.87,333.98L405.22,333.23L404.65,332.47L404.13,331.71L403.67,330.95L403.26,330.19L402.87,329.43L402.49,328.68L402.16,327.92L401.89,327.16L401.73,326.4L401.6,325.64L401.49,324.88L401.41,324.12L401.37,323.37L401.39,322.61L401.5,321.85L401.7,321.09L401.95,320.33L402.24,319.57L402.54,318.82L402.96,318.06L403.5,317.3L404.12,316.54L404.77,315.78L405.41,315.02L406.07,314.27L406.78,313.51L407.51,312.75L408.27,311.99L409.03,311.23L409.79,310.48L410.58,309.72L411.39,308.96L412.21,308.2L413.04,307.44L413.85,306.68L414.64,305.93L415.4,305.17L416.13,304.41L416.84,303.65L417.53,302.89L418.21,302.13L418.87,301.38L419.51,300.62L420.13,299.86L420.75,299.1L421.35,298.34L421.95,297.58L422.52,296.82L423.06,296.07L423.57,295.31L424.04,294.55L424.48,293.79L424.91,293.03L425.31,292.27L425.69,291.52L426.04,290.76L426.36,290Z" fill="#C55120"/>
<path d="M505.59,279L505.58,279.76L505.57,280.52L505.56,281.28L505.54,282.04L505.51,282.8L505.49,283.55L505.46,284.31L505.41,285.07L505.36,285.83L505.29,286.59L505.23,287.35L505.17,288.11L505.12,288.87L505.08,289.63L505.05,290.39L505.01,291.15L504.98,291.91L504.94,292.66L504.92,293.42L504.9,294.18L504.89,294.94L504.89,295.7L504.9,296.46L504.92,297.22L504.94,297.98L504.97,298.74L505.01,299.5L505.05,300.26L505.08,301.01L505.13,301.77L505.18,302.53L505.25,303.29L505.32,304.05L505.39,304.81L505.46,305.57L505.54,306.33L505.6,307.09L505.67,307.85L505.73,308.61L505.8,309.36L505.86,310.12L505.92,310.88L505.99,311.64L506.06,312.4L506.13,313.16L506.2,313.92L506.27,314.68L506.34,315.44L506.41,316.2L506.49,316.96L506.58,317.72L506.68,318.47L506.8,319.23L506.94,319.99L507.09,320.75L507.27,321.51L507.49,322.27L507.73,323.03L508.07,323.79L508.51,324.55L509.03,325.31L509.61,326.07L510.21,326.82L510.82,327.58L511.51,328.34L512.27,329.1L513.08,329.86L513.89,330.62L514.67,331.38L515.4,332.14L516.09,332.9L516.77,333.66L517.46,334.42L518.19,335.18L518.99,335.93L519.89,336.69L520.93,337.45L522.03,338.21L523.11,338.97L524.13,339.73L525.13,340.49L526.09,341.25L526.99,342.01L527.89,342.77L528.94,343.53L530.04,344.28L530.85,345.04L531.47,345.8L531.68,346.56L531.8,347.32L531.87,348.08L531.89,348.84L531.89,349.6L531.84,350.36L531.62,351.12L531.28,351.88L530.84,352.64L530.34,353.39L529.82,354.15L529.19,354.91L528.36,355.67L527.39,356.43L526.37,357.19L525.37,357.95L524.44,358.71L523.54,359.47L522.64,360.23L521.74,360.99L520.86,361.74L520.01,362.5L519.2,363.26L518.4,364.02L517.62,364.78L516.86,365.54L516.14,366.3L515.48,367.06L514.88,367.82L514.3,368.58L513.76,369.34L513.26,370.09L512.79,370.85L512.38,371.61L512.01,372.37L511.68,373.13L511.37,373.89L511.08,374.65L510.8,375.41L510.53,376.17L510.27,376.93L510.03,377.69L509.8,378.45L509.57,379.2L509.33,379.96L509.08,380.72L508.82,381.48L508.56,382.24L508.29,383L497.49,383L497.22,382.24L496.95,381.48L496.7,380.72L496.44,379.96L496.21,379.2L495.98,378.45L495.74,377.69L495.5,376.93L495.25,376.17L494.98,375.41L494.7,374.65L494.41,373.89L494.1,373.13L493.76,372.37L493.39,371.61L492.98,370.85L492.52,370.09L492.01,369.34L491.47,368.58L490.89,367.82L490.29,367.06L489.63,366.3L488.92,365.54L488.16,364.78L487.37,364.02L486.57,363.26L485.76,362.5L484.91,361.74L484.03,360.99L483.14,360.23L482.23,359.47L481.33,358.71L480.41,357.95L479.4,357.19L478.38,356.43L477.42,355.67L476.58,354.91L475.96,354.15L475.44,353.39L474.94,352.64L474.5,351.88L474.15,351.12L473.94,350.36L473.89,349.6L473.89,348.84L473.9,348.08L473.97,347.32L474.09,346.56L474.3,345.8L474.92,345.04L475.73,344.28L476.83,343.53L477.88,342.77L478.79,342.01L479.68,341.25L480.64,340.49L481.64,339.73L482.66,338.97L483.74,338.21L484.84,337.45L485.88,336.69L486.79,335.93L487.58,335.18L488.31,334.42L489,333.66L489.68,332.9L490.37,332.14L491.11,331.38L491.89,330.62L492.7,329.86L493.5,329.1L494.26,328.34L494.95,327.58L495.57,326.82L496.17,326.07L496.74,325.31L497.26,324.55L497.7,323.79L498.04,323.03L498.29,322.27L498.5,321.51L498.68,320.75L498.84,319.99L498.97,319.23L499.09,318.47L499.19,317.72L499.28,316.96L499.37,316.2L499.44,315.44L499.51,314.68L499.58,313.92L499.64,313.16L499.72,312.4L499.78,311.64L499.85,310.88L499.92,310.12L499.98,309.36L500.04,308.61L500.11,307.85L500.17,307.09L500.24,306.33L500.31,305.57L500.39,304.81L500.46,304.05L500.53,303.29L500.59,302.53L500.65,301.77L500.69,301.01L500.73,300.26L500.77,299.5L500.8,298.74L500.83,297.98L500.86,297.22L500.88,296.46L500.89,295.7L500.89,294.94L500.88,294.18L500.86,293.42L500.83,292.66L500.8,291.91L500.77,291.15L500.73,290.39L500.69,289.63L500.65,288.87L500.6,288.11L500.54,287.35L500.48,286.59L500.42,285.83L500.36,285.07L500.32,284.31L500.29,283.55L500.26,282.8L500.24,282.04L500.22,281.28L500.2,280.52L500.19,279.76L500.19,279Z" fill="#DCA066"/>
<path d="M578.81,313.8L578.81,314.56L578.8,315.31L578.78,316.07L578.75,316.82L578.73,317.58L578.7,318.34L578.65,319.09L578.58,319.85L578.5,320.6L578.41,321.36L578.33,322.12L578.25,322.87L578.17,323.63L578.1,324.38L578.03,325.14L577.95,325.9L577.88,326.65L577.81,327.41L577.74,328.16L577.66,328.92L577.59,329.68L577.52,330.43L577.45,331.19L577.38,331.94L577.3,332.7L577.23,333.46L577.14,334.21L577.05,334.97L576.96,335.72L576.86,336.48L576.77,337.24L576.69,337.99L576.62,338.75L576.55,339.5L576.5,340.26L576.44,341.02L576.39,341.77L576.35,342.53L576.3,343.28L576.26,344.04L576.22,344.8L576.18,345.55L576.13,346.31L576.1,347.06L576.06,347.82L576.03,348.58L576.01,349.33L575.99,350.09L575.97,350.84L575.95,351.6L575.93,352.36L575.91,353.11L575.89,353.87L575.88,354.62L575.87,355.38L575.87,356.14L575.86,356.89L575.86,357.65L575.86,358.4L575.86,359.16L575.86,359.92L575.87,360.67L575.89,361.43L575.93,362.18L575.98,362.94L576.04,363.7L576.1,364.45L576.17,365.21L576.24,365.96L576.32,366.72L576.42,367.48L576.53,368.23L576.66,368.99L576.8,369.74L576.95,370.5L577.11,371.26L577.29,372.01L577.48,372.77L577.71,373.52L577.96,374.28L578.22,375.04L578.49,375.79L578.77,376.55L579.05,377.3L579.36,378.06L579.69,378.82L580.05,379.57L580.45,380.33L580.89,381.08L581.34,381.84L581.81,382.6L582.28,383.35L582.72,384.11L583.13,384.86L583.57,385.62L584.09,386.38L584.75,387.13L585.82,387.89L586.79,388.64L587.69,389.4L588.56,390.16L589.42,390.91L590.29,391.67L591.18,392.42L592.06,393.18L592.94,393.94L593.82,394.69L594.71,395.45L595.62,396.2L596.56,396.96L597.51,397.72L598.41,398.47L599.24,399.23L600.03,399.98L600.8,400.74L601.51,401.5L602.12,402.25L602.59,403.01L603.01,403.76L603.38,404.52L603.71,405.28L603.98,406.03L604.21,406.79L604.38,407.54L604.51,408.3L546.31,408.3L546.44,407.54L546.62,406.79L546.84,406.03L547.12,405.28L547.44,404.52L547.82,403.76L548.23,403.01L548.71,402.25L549.32,401.5L550.03,400.74L550.79,399.98L551.58,399.23L552.41,398.47L553.32,397.72L554.26,396.96L555.2,396.2L556.11,395.45L557,394.69L557.89,393.94L558.77,393.18L559.65,392.42L560.53,391.67L561.41,390.91L562.27,390.16L563.14,389.4L564.03,388.64L565,387.89L566.08,387.13L566.74,386.38L567.26,385.62L567.69,384.86L568.11,384.11L568.54,383.35L569.01,382.6L569.48,381.84L569.94,381.08L570.38,380.33L570.78,379.57L571.14,378.82L571.47,378.06L571.77,377.3L572.06,376.55L572.33,375.79L572.61,375.04L572.87,374.28L573.12,373.52L573.34,372.77L573.54,372.01L573.71,371.26L573.87,370.5L574.02,369.74L574.16,368.99L574.29,368.23L574.41,367.48L574.51,366.72L574.59,365.96L574.66,365.21L574.72,364.45L574.79,363.7L574.85,362.94L574.89,362.18L574.93,361.43L574.96,360.67L574.96,359.92L574.96,359.16L574.96,358.4L574.96,357.65L574.96,356.89L574.96,356.14L574.95,355.38L574.94,354.62L574.93,353.87L574.92,353.11L574.9,352.36L574.88,351.6L574.86,350.84L574.84,350.09L574.82,349.33L574.79,348.58L574.76,347.82L574.73,347.06L574.69,346.31L574.65,345.55L574.61,344.8L574.56,344.04L574.52,343.28L574.48,342.53L574.43,341.77L574.38,341.02L574.33,340.26L574.27,339.5L574.21,338.75L574.14,337.99L574.05,337.24L573.96,336.48L573.87,335.72L573.77,334.97L573.68,334.21L573.6,333.46L573.52,332.7L573.45,331.94L573.37,331.19L573.3,330.43L573.23,329.68L573.16,328.92L573.09,328.16L573.02,327.41L572.94,326.65L572.87,325.9L572.8,325.14L572.73,324.38L572.65,323.63L572.58,322.87L572.5,322.12L572.41,321.36L572.32,320.6L572.25,319.85L572.18,319.09L572.13,318.34L572.1,317.58L572.07,316.82L572.05,316.07L572.03,315.31L572.02,314.56L572.01,313.8Z" fill="#60B1A3"/>
<path d="M670.94,283.3L670.94,284.06L670.94,284.81L670.94,285.57L670.94,286.33L670.94,287.09L670.94,287.84L670.94,288.6L670.92,289.36L670.87,290.12L670.78,290.87L670.66,291.63L670.54,292.39L670.41,293.14L670.28,293.9L670.17,294.66L670.05,295.42L669.93,296.17L669.81,296.93L669.68,297.69L669.55,298.45L669.42,299.2L669.29,299.96L669.16,300.72L669.04,301.47L668.92,302.23L668.8,302.99L668.68,303.75L668.55,304.5L668.43,305.26L668.32,306.02L668.2,306.78L668.1,307.53L668,308.29L667.91,309.05L667.81,309.81L667.72,310.56L667.62,311.32L667.52,312.08L667.44,312.83L667.36,313.59L667.3,314.35L667.26,315.11L667.24,315.86L667.24,316.62L667.24,317.38L667.24,318.14L667.24,318.89L667.24,319.65L667.24,320.41L667.24,321.16L667.24,321.92L667.24,322.68L667.24,323.44L667.25,324.19L667.28,324.95L667.32,325.71L667.38,326.47L667.45,327.22L667.53,327.98L667.62,328.74L667.7,329.49L667.79,330.25L667.87,331.01L667.97,331.77L668.07,332.52L668.18,333.28L668.3,334.04L668.43,334.8L668.56,335.55L668.7,336.31L668.85,337.07L669,337.82L669.16,338.58L669.34,339.34L669.53,340.1L669.73,340.85L669.94,341.61L670.16,342.37L670.37,343.13L670.59,343.88L670.79,344.64L670.99,345.4L671.18,346.15L671.37,346.91L671.56,347.67L671.76,348.43L671.94,349.18L672.13,349.94L672.31,350.7L672.49,351.46L672.67,352.21L672.84,352.97L673,353.73L673.16,354.48L673.3,355.24L673.45,356L673.61,356.76L673.77,357.51L673.95,358.27L674.15,359.03L674.39,359.79L674.68,360.54L674.99,361.3L675.28,362.06L675.53,362.82L675.69,363.57L675.82,364.33L675.94,365.09L676.05,365.84L676.15,366.6L676.24,367.36L676.32,368.12L676.39,368.87L676.46,369.63L676.52,370.39L676.58,371.15L676.64,371.9L676.7,372.66L676.75,373.42L676.8,374.17L676.85,374.93L676.89,375.69L676.91,376.45L676.93,377.2L676.94,377.96L676.94,378.72L676.94,379.48L676.94,380.23L676.94,380.99L676.94,381.75L676.94,382.5L676.94,383.26L676.94,384.02L676.94,384.78L676.94,385.53L676.93,386.29L676.92,387.05L676.9,387.81L676.88,388.56L676.86,389.32L676.83,390.08L676.8,390.83L676.77,391.59L676.74,392.35L676.7,393.11L676.65,393.86L676.59,394.62L676.52,395.38L676.45,396.14L676.36,396.89L676.28,397.65L676.19,398.41L676.1,399.16L676.01,399.92L675.92,400.68L675.82,401.44L675.72,402.19L675.61,402.95L675.5,403.71L675.38,404.47L675.26,405.22L675.13,405.98L674.99,406.74L674.84,407.49L674.67,408.25L674.49,409.01L674.3,409.77L674.1,410.52L673.89,411.28L673.67,412.04L673.46,412.8L673.24,413.55L673.03,414.31L672.83,415.07L672.62,415.83L672.42,416.58L672.21,417.34L672,418.1L671.78,418.85L671.56,419.61L671.33,420.37L671.09,421.13L670.84,421.88L670.58,422.64L670.31,423.4L670.03,424.16L669.74,424.91L669.44,425.67L669.14,426.43L668.84,427.18L668.53,427.94L668.22,428.7L667.91,429.46L667.59,430.21L667.27,430.97L666.94,431.73L666.61,432.49L666.28,433.24L665.94,434L629.94,434L629.6,433.24L629.26,432.49L628.93,431.73L628.6,430.97L628.28,430.21L627.97,429.46L627.66,428.7L627.35,427.94L627.04,427.18L626.73,426.43L626.43,425.67L626.13,424.91L625.84,424.16L625.56,423.4L625.29,422.64L625.03,421.88L624.78,421.13L624.55,420.37L624.32,419.61L624.09,418.85L623.88,418.1L623.67,417.34L623.46,416.58L623.25,415.83L623.05,415.07L622.84,414.31L622.63,413.55L622.42,412.8L622.2,412.04L621.99,411.28L621.78,410.52L621.58,409.77L621.38,409.01L621.2,408.25L621.04,407.49L620.89,406.74L620.75,405.98L620.62,405.22L620.49,404.47L620.37,403.71L620.26,402.95L620.15,402.19L620.05,401.44L619.96,400.68L619.86,399.92L619.77,399.16L619.68,398.41L619.6,397.65L619.51,396.89L619.43,396.14L619.35,395.38L619.28,394.62L619.22,393.86L619.17,393.11L619.14,392.35L619.1,391.59L619.07,390.83L619.04,390.08L619.02,389.32L618.99,388.56L618.97,387.81L618.96,387.05L618.94,386.29L618.94,385.53L618.94,384.78L618.94,384.02L618.94,383.26L618.94,382.5L618.94,381.75L618.94,380.99L618.94,380.23L618.94,379.48L618.94,378.72L618.94,377.96L618.94,377.2L618.96,376.45L618.99,375.69L619.03,374.93L619.07,374.17L619.12,373.42L619.18,372.66L619.24,371.9L619.3,371.15L619.35,370.39L619.41,369.63L619.48,368.87L619.56,368.12L619.64,367.36L619.73,366.6L619.82,365.84L619.93,365.09L620.05,364.33L620.19,363.57L620.35,362.82L620.59,362.06L620.88,361.3L621.19,360.54L621.49,359.79L621.73,359.03L621.93,358.27L622.1,357.51L622.27,356.76L622.42,356L622.57,355.24L622.72,354.48L622.87,353.73L623.03,352.97L623.2,352.21L623.38,351.46L623.56,350.7L623.75,349.94L623.93,349.18L624.12,348.43L624.31,347.67L624.5,346.91L624.69,346.15L624.89,345.4L625.08,344.64L625.29,343.88L625.5,343.13L625.72,342.37L625.93,341.61L626.14,340.85L626.34,340.1L626.54,339.34L626.71,338.58L626.87,337.82L627.02,337.07L627.17,336.31L627.31,335.55L627.45,334.8L627.57,334.04L627.69,333.28L627.81,332.52L627.91,331.77L628,331.01L628.09,330.25L628.17,329.49L628.26,328.74L628.34,327.98L628.42,327.22L628.49,326.47L628.55,325.71L628.6,324.95L628.63,324.19L628.64,323.44L628.64,322.68L628.64,321.92L628.64,321.16L628.64,320.41L628.64,319.65L628.64,318.89L628.64,318.14L628.64,317.38L628.64,316.62L628.64,315.86L628.62,315.11L628.57,314.35L628.51,313.59L628.44,312.83L628.35,312.08L628.26,311.32L628.16,310.56L628.06,309.81L627.97,309.05L627.88,308.29L627.78,307.53L627.67,306.78L627.56,306.02L627.44,305.26L627.32,304.5L627.2,303.75L627.08,302.99L626.95,302.23L626.83,301.47L626.71,300.72L626.59,299.96L626.46,299.2L626.33,298.45L626.2,297.69L626.07,296.93L625.94,296.17L625.82,295.42L625.71,294.66L625.59,293.9L625.47,293.14L625.34,292.39L625.21,291.63L625.1,290.87L625.01,290.12L624.95,289.36L624.94,288.6L624.94,287.84L624.94,287.09L624.94,286.33L624.94,285.57L624.94,284.81L624.94,284.06L624.94,283.3Z" fill="#0D5558"/>
<path d="M401.36,338.9H459.56M473.89,345H532.09M546.41,397.3H604.61M618.94,355.5H677.14" stroke="#222" stroke-width="1.3" fill="none"/>
<path d="M435.09,287.29l2.55,2.55l-2.55,2.55l-2.55,-2.55zM426.36,298.92l2.55,2.55l-2.55,2.55l-2.55,-2.55zM436.25,298.63l2.55,2.55l-2.55,2.55l-2.55,-2.55zM431.02,311l2.55,2.55l-2.55,2.55l-2.55,-2.55zM435.53,309.1l2.55,2.55l-2.55,2.55l-2.55,-2.55zM435.38,312.45l2.55,2.55l-2.55,2.55l-2.55,-2.55zM425.35,315.07l2.55,2.55l-2.55,2.55l-2.55,-2.55zM432.91,315.36l2.55,2.55l-2.55,2.55l-2.55,-2.55zM428.55,317.54l2.55,2.55l-2.55,2.55l-2.55,-2.55zM426.36,319l2.55,2.55l-2.55,2.55l-2.55,-2.55zM431.45,318.56l2.55,2.55l-2.55,2.55l-2.55,-2.55zM423.75,322.34l2.55,2.55l-2.55,2.55l-2.55,-2.55zM426.65,322.63l2.55,2.55l-2.55,2.55l-2.55,-2.55zM429.56,322.34l2.55,2.55l-2.55,2.55l-2.55,-2.55zM432.47,322.63l2.55,2.55l-2.55,2.55l-2.55,-2.55zM435.38,322.34l2.55,2.55l-2.55,2.55l-2.55,-2.55zM438.29,322.34l2.55,2.55l-2.55,2.55l-2.55,-2.55zM426.65,326.27l2.55,2.55l-2.55,2.55l-2.55,-2.55zM431.75,327.72l2.55,2.55l-2.55,2.55l-2.55,-2.55zM436.84,327.72l2.55,2.55l-2.55,2.55l-2.55,-2.55zM425.35,331.07l2.55,2.55l-2.55,2.55l-2.55,-2.55zM432.18,335l2.55,2.55l-2.55,2.55l-2.55,-2.55zM427.53,337.61l2.55,2.55l-2.55,2.55l-2.55,-2.55zM432.91,340.09l2.55,2.55l-2.55,2.55l-2.55,-2.55zM423.89,356.1l2.55,2.55l-2.55,2.55l-2.55,-2.55zM436.98,354.65l2.55,2.55l-2.55,2.55l-2.55,-2.55zM435.82,362.07l2.55,2.55l-2.55,2.55l-2.55,-2.55zM432.18,381.56l2.55,2.55l-2.55,2.55l-2.55,-2.55zM435.82,383.45l2.55,2.55l-2.55,2.55l-2.55,-2.55zM428.84,389.7l2.55,2.55l-2.55,2.55l-2.55,-2.55zM424.47,394.36l2.55,2.55l-2.55,2.55l-2.55,-2.55zM433.64,393.92l2.55,2.55l-2.55,2.55l-2.55,-2.55zM427.09,397.7l2.55,2.55l-2.55,2.55l-2.55,-2.55zM431.45,401.63l2.55,2.55l-2.55,2.55l-2.55,-2.55zM426.36,406l2.55,2.55l-2.55,2.55l-2.55,-2.55zM429.56,406.29l2.55,2.55l-2.55,2.55l-2.55,-2.55zM423.6,322.35l2.55,2.55l-2.55,2.55l-2.55,-2.55zM425.2,322.35l2.55,2.55l-2.55,2.55l-2.55,-2.55zM426.8,322.35l2.55,2.55l-2.55,2.55l-2.55,-2.55zM428.4,322.35l2.55,2.55l-2.55,2.55l-2.55,-2.55zM430,322.35l2.55,2.55l-2.55,2.55l-2.55,-2.55zM431.6,322.35l2.55,2.55l-2.55,2.55l-2.55,-2.55zM433.2,322.35l2.55,2.55l-2.55,2.55l-2.55,-2.55zM434.8,322.35l2.55,2.55l-2.55,2.55l-2.55,-2.55zM436.4,322.35l2.55,2.55l-2.55,2.55l-2.55,-2.55zM438,322.35l2.55,2.55l-2.55,2.55l-2.55,-2.55zM438.8,322.35l2.55,2.55l-2.55,2.55l-2.55,-2.55zM502.56,278.47l2.55,2.55l-2.55,2.55l-2.55,-2.55zM508.53,276.29l2.55,2.55l-2.55,2.55l-2.55,-2.55zM505.47,287.92l2.55,2.55l-2.55,2.55l-2.55,-2.55zM498.35,305.38l2.55,2.55l-2.55,2.55l-2.55,-2.55zM499.07,311.2l2.55,2.55l-2.55,2.55l-2.55,-2.55zM500.82,313.09l2.55,2.55l-2.55,2.55l-2.55,-2.55zM500.09,327.63l2.55,2.55l-2.55,2.55l-2.55,-2.55zM499.36,330.54l2.55,2.55l-2.55,2.55l-2.55,-2.55zM503,332.43l2.55,2.55l-2.55,2.55l-2.55,-2.55zM499.65,327.63l2.55,2.55l-2.55,2.55l-2.55,-2.55zM501.11,330.54l2.55,2.55l-2.55,2.55l-2.55,-2.55zM503.44,332.43l2.55,2.55l-2.55,2.55l-2.55,-2.55zM505.47,336.36l2.55,2.55l-2.55,2.55l-2.55,-2.55zM506.64,339.7l2.55,2.55l-2.55,2.55l-2.55,-2.55zM509.55,340l2.55,2.55l-2.55,2.55l-2.55,-2.55zM497.18,344.36l2.55,2.55l-2.55,2.55l-2.55,-2.55zM500.09,344.36l2.55,2.55l-2.55,2.55l-2.55,-2.55zM503,344.07l2.55,2.55l-2.55,2.55l-2.55,-2.55zM506.64,343.63l2.55,2.55l-2.55,2.55l-2.55,-2.55zM509.84,344.36l2.55,2.55l-2.55,2.55l-2.55,-2.55zM496.16,348l2.55,2.55l-2.55,2.55l-2.55,-2.55zM499.36,348.72l2.55,2.55l-2.55,2.55l-2.55,-2.55zM504.45,347.27l2.55,2.55l-2.55,2.55l-2.55,-2.55zM508.09,346.98l2.55,2.55l-2.55,2.55l-2.55,-2.55zM499.36,352.36l2.55,2.55l-2.55,2.55l-2.55,-2.55zM503,351.63l2.55,2.55l-2.55,2.55l-2.55,-2.55zM506.64,352.36l2.55,2.55l-2.55,2.55l-2.55,-2.55zM497.91,356.29l2.55,2.55l-2.55,2.55l-2.55,-2.55zM502.27,356l2.55,2.55l-2.55,2.55l-2.55,-2.55zM505.47,356.72l2.55,2.55l-2.55,2.55l-2.55,-2.55zM507.36,354.54l2.55,2.55l-2.55,2.55l-2.55,-2.55zM503.73,358.18l2.55,2.55l-2.55,2.55l-2.55,-2.55zM509.25,361.81l2.55,2.55l-2.55,2.55l-2.55,-2.55zM498.64,368.65l2.55,2.55l-2.55,2.55l-2.55,-2.55zM507.36,368.8l2.55,2.55l-2.55,2.55l-2.55,-2.55zM506.93,374.61l2.55,2.55l-2.55,2.55l-2.55,-2.55zM507.36,379.56l2.55,2.55l-2.55,2.55l-2.55,-2.55zM497.62,380.43l2.55,2.55l-2.55,2.55l-2.55,-2.55zM580.88,310.91l2.55,2.55l-2.55,2.55l-2.55,-2.55zM579.97,312.6l2.55,2.55l-2.55,2.55l-2.55,-2.55zM578.93,314.42l2.55,2.55l-2.55,2.55l-2.55,-2.55zM568.91,321.96l2.55,2.55l-2.55,2.55l-2.55,-2.55zM582.57,326.91l2.55,2.55l-2.55,2.55l-2.55,-2.55zM581.14,379.77l2.55,2.55l-2.55,2.55l-2.55,-2.55zM569.17,391.08l2.55,2.55l-2.55,2.55l-2.55,-2.55zM578.67,389.78l2.55,2.55l-2.55,2.55l-2.55,-2.55zM578.93,393.43l2.55,2.55l-2.55,2.55l-2.55,-2.55zM568.26,405.91l2.55,2.55l-2.55,2.55l-2.55,-2.55zM569.56,405.91l2.55,2.55l-2.55,2.55l-2.55,-2.55zM570.86,405.91l2.55,2.55l-2.55,2.55l-2.55,-2.55zM572.16,405.91l2.55,2.55l-2.55,2.55l-2.55,-2.55zM573.46,405.91l2.55,2.55l-2.55,2.55l-2.55,-2.55zM574.76,405.91l2.55,2.55l-2.55,2.55l-2.55,-2.55zM576.07,405.91l2.55,2.55l-2.55,2.55l-2.55,-2.55zM577.37,405.91l2.55,2.55l-2.55,2.55l-2.55,-2.55zM578.67,405.91l2.55,2.55l-2.55,2.55l-2.55,-2.55zM579.97,405.91l2.55,2.55l-2.55,2.55l-2.55,-2.55zM581.27,405.91l2.55,2.55l-2.55,2.55l-2.55,-2.55zM582.57,405.91l2.55,2.55l-2.55,2.55l-2.55,-2.55zM640.54,280.74l2.55,2.55l-2.55,2.55l-2.55,-2.55zM643.27,280.37l2.55,2.55l-2.55,2.55l-2.55,-2.55zM646,281.1l2.55,2.55l-2.55,2.55l-2.55,-2.55zM648.74,281.65l2.55,2.55l-2.55,2.55l-2.55,-2.55zM651.47,281.1l2.55,2.55l-2.55,2.55l-2.55,-2.55zM654.2,280.37l2.55,2.55l-2.55,2.55l-2.55,-2.55zM656.03,281.1l2.55,2.55l-2.55,2.55l-2.55,-2.55zM646,285.84l2.55,2.55l-2.55,2.55l-2.55,-2.55zM652.74,283.47l2.55,2.55l-2.55,2.55l-2.55,-2.55zM644.73,318.1l2.55,2.55l-2.55,2.55l-2.55,-2.55zM645.46,321.74l2.55,2.55l-2.55,2.55l-2.55,-2.55zM642.36,339.05l2.55,2.55l-2.55,2.55l-2.55,-2.55zM646.91,338.69l2.55,2.55l-2.55,2.55l-2.55,-2.55zM651.47,339.42l2.55,2.55l-2.55,2.55l-2.55,-2.55zM652.93,340.51l2.55,2.55l-2.55,2.55l-2.55,-2.55zM644.54,349.44l2.55,2.55l-2.55,2.55l-2.55,-2.55zM640.9,362.93l2.55,2.55l-2.55,2.55l-2.55,-2.55zM653.29,362.56l2.55,2.55l-2.55,2.55l-2.55,-2.55zM647.28,366.21l2.55,2.55l-2.55,2.55l-2.55,-2.55zM649.65,367.12l2.55,2.55l-2.55,2.55l-2.55,-2.55zM653.29,371.31l2.55,2.55l-2.55,2.55l-2.55,-2.55zM650.56,373.13l2.55,2.55l-2.55,2.55l-2.55,-2.55zM642.36,377.14l2.55,2.55l-2.55,2.55l-2.55,-2.55zM645.09,377.14l2.55,2.55l-2.55,2.55l-2.55,-2.55zM650.19,377.14l2.55,2.55l-2.55,2.55l-2.55,-2.55zM648.74,381.7l2.55,2.55l-2.55,2.55l-2.55,-2.55zM646.55,383.52l2.55,2.55l-2.55,2.55l-2.55,-2.55zM649.1,393.91l2.55,2.55l-2.55,2.55l-2.55,-2.55zM644.18,399.55l2.55,2.55l-2.55,2.55l-2.55,-2.55zM653.29,406.84l2.55,2.55l-2.55,2.55l-2.55,-2.55zM642.9,410.49l2.55,2.55l-2.55,2.55l-2.55,-2.55zM646.55,410.49l2.55,2.55l-2.55,2.55l-2.55,-2.55zM652.38,412.68l2.55,2.55l-2.55,2.55l-2.55,-2.55zM643.63,416.87l2.55,2.55l-2.55,2.55l-2.55,-2.55zM645.46,419.05l2.55,2.55l-2.55,2.55l-2.55,-2.55zM652.02,419.05l2.55,2.55l-2.55,2.55l-2.55,-2.55zM647.28,421.79l2.55,2.55l-2.55,2.55l-2.55,-2.55zM652.02,424.52l2.55,2.55l-2.55,2.55l-2.55,-2.55zM640.9,426.34l2.55,2.55l-2.55,2.55l-2.55,-2.55zM648.74,429.08l2.55,2.55l-2.55,2.55l-2.55,-2.55zM648.74,431.81l2.55,2.55l-2.55,2.55l-2.55,-2.55z" fill="#000"/>
<rect x="394.1" y="257.5" width="290.1" height="184" fill="none" stroke="#cccccc" stroke-width="1.3"/>
<text class="tk" x="384.1" y="268.79" text-anchor="end">1.0</text>
<text class="tk" x="384.1" y="297.54" text-anchor="end">0.8</text>
<text class="tk" x="384.1" y="326.29" text-anchor="end">0.6</text>
<text class="tk" x="384.1" y="355.04" text-anchor="end">0.4</text>
<text class="tk" x="384.1" y="383.79" text-anchor="end">0.2</text>
<text class="tk" x="384.1" y="412.54" text-anchor="end">0.0</text>
<text class="tk" x="384.1" y="441.29" text-anchor="end">−0.2</text>
<text class="tk" x="430.36" y="458.8" text-anchor="middle">Storage</text>
<text class="tk" x="502.89" y="458.8" text-anchor="middle">Solar</text>
<text class="tk" x="575.41" y="458.8" text-anchor="middle">Grid</text>
<text class="tk" x="647.94" y="458.8" text-anchor="middle">Aux. heating</text>
<text class="lb" transform="translate(356.2,349.5) rotate(-90)" text-anchor="middle">Fraction</text>
<text class="tt" x="539.15" y="250.4" text-anchor="middle">La Paz, Mexico</text>
<text class="pl" x="354.2" y="252.8">d.</text>
</g>
</svg></body></html>
